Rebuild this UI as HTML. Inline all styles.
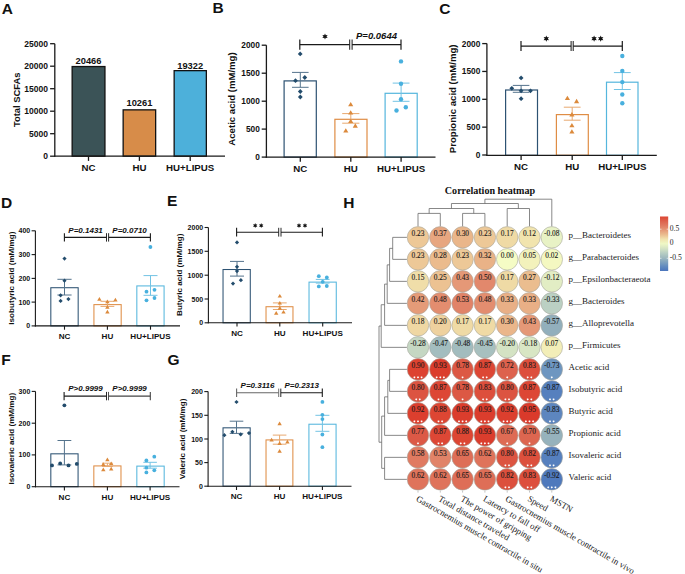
<!DOCTYPE html><html><head><meta charset="utf-8"><style>html,body{margin:0;padding:0;background:#fff;}svg{display:block;}</style></head><body>
<svg width="685" height="574" viewBox="0 0 685 574">
<rect width="685" height="574" fill="#fff"/>
<text x="1.80" y="14.00" font-family='"Liberation Sans", sans-serif' font-size="15.5" font-weight="bold" text-anchor="start" fill="#111" style="" >A</text>
<text x="212.60" y="13.30" font-family='"Liberation Sans", sans-serif' font-size="15.5" font-weight="bold" text-anchor="start" fill="#111" style="" >B</text>
<text x="439.30" y="13.80" font-family='"Liberation Sans", sans-serif' font-size="15.5" font-weight="bold" text-anchor="start" fill="#111" style="" >C</text>
<text x="1.10" y="207.60" font-family='"Liberation Sans", sans-serif' font-size="15.5" font-weight="bold" text-anchor="start" fill="#111" style="" >D</text>
<text x="167.00" y="205.80" font-family='"Liberation Sans", sans-serif' font-size="15.5" font-weight="bold" text-anchor="start" fill="#111" style="" >E</text>
<text x="1.30" y="365.00" font-family='"Liberation Sans", sans-serif' font-size="15.5" font-weight="bold" text-anchor="start" fill="#111" style="" >F</text>
<text x="167.50" y="365.00" font-family='"Liberation Sans", sans-serif' font-size="15.5" font-weight="bold" text-anchor="start" fill="#111" style="" >G</text>
<text x="343.20" y="208.20" font-family='"Liberation Sans", sans-serif' font-size="15.5" font-weight="bold" text-anchor="start" fill="#111" style="" >H</text>
<rect x="72.15" y="66.55" width="32.80" height="89.65" fill="#3b5357" stroke="#111" stroke-width="1.3"/>
<rect x="123.15" y="109.85" width="32.50" height="46.35" fill="#d78c49" stroke="#111" stroke-width="1.3"/>
<rect x="174.15" y="70.65" width="32.20" height="85.55" fill="#4db0da" stroke="#111" stroke-width="1.3"/>
<line x1="54.80" y1="43.70" x2="54.80" y2="156.85" stroke="#1a1a1a" stroke-width="1.3" />
<line x1="54.15" y1="156.20" x2="225.00" y2="156.20" stroke="#1a1a1a" stroke-width="1.3" />
<line x1="50.10" y1="43.70" x2="54.80" y2="43.70" stroke="#1a1a1a" stroke-width="1.3" />
<text x="48.00" y="46.76" font-family='"Liberation Sans", sans-serif' font-size="8.5" font-weight="bold" text-anchor="end" fill="#111" style="" >25000</text>
<line x1="50.10" y1="66.20" x2="54.80" y2="66.20" stroke="#1a1a1a" stroke-width="1.3" />
<text x="48.00" y="69.26" font-family='"Liberation Sans", sans-serif' font-size="8.5" font-weight="bold" text-anchor="end" fill="#111" style="" >20000</text>
<line x1="50.10" y1="88.70" x2="54.80" y2="88.70" stroke="#1a1a1a" stroke-width="1.3" />
<text x="48.00" y="91.76" font-family='"Liberation Sans", sans-serif' font-size="8.5" font-weight="bold" text-anchor="end" fill="#111" style="" >15000</text>
<line x1="50.10" y1="111.20" x2="54.80" y2="111.20" stroke="#1a1a1a" stroke-width="1.3" />
<text x="48.00" y="114.26" font-family='"Liberation Sans", sans-serif' font-size="8.5" font-weight="bold" text-anchor="end" fill="#111" style="" >10000</text>
<line x1="50.10" y1="133.70" x2="54.80" y2="133.70" stroke="#1a1a1a" stroke-width="1.3" />
<text x="48.00" y="136.76" font-family='"Liberation Sans", sans-serif' font-size="8.5" font-weight="bold" text-anchor="end" fill="#111" style="" >5000</text>
<line x1="50.10" y1="156.20" x2="54.80" y2="156.20" stroke="#1a1a1a" stroke-width="1.3" />
<text x="48.00" y="159.26" font-family='"Liberation Sans", sans-serif' font-size="8.5" font-weight="bold" text-anchor="end" fill="#111" style="" >0</text>
<line x1="88.50" y1="156.20" x2="88.50" y2="160.90" stroke="#1a1a1a" stroke-width="1.3" />
<text x="88.50" y="170.80" font-family='"Liberation Sans", sans-serif' font-size="9.7" font-weight="bold" text-anchor="middle" fill="#111" style="" >NC</text>
<line x1="139.40" y1="156.20" x2="139.40" y2="160.90" stroke="#1a1a1a" stroke-width="1.3" />
<text x="139.40" y="170.80" font-family='"Liberation Sans", sans-serif' font-size="9.7" font-weight="bold" text-anchor="middle" fill="#111" style="" >HU</text>
<line x1="190.20" y1="156.20" x2="190.20" y2="160.90" stroke="#1a1a1a" stroke-width="1.3" />
<text x="190.20" y="170.80" font-family='"Liberation Sans", sans-serif' font-size="9.7" font-weight="bold" text-anchor="middle" fill="#111" style="" >HU+LIPUS</text>
<text transform="translate(19.70,99.80) rotate(-90)" font-family='"Liberation Sans", sans-serif' font-size="9.4" font-weight="bold" text-anchor="middle" fill="#111">Total SCFAs</text>
<text x="88.50" y="63.70" font-family='"Liberation Sans", sans-serif' font-size="9.3" font-weight="bold" text-anchor="middle" fill="#111" style="" >20466</text>
<text x="139.40" y="106.30" font-family='"Liberation Sans", sans-serif' font-size="9.3" font-weight="bold" text-anchor="middle" fill="#111" style="" >10261</text>
<text x="190.20" y="68.50" font-family='"Liberation Sans", sans-serif' font-size="9.3" font-weight="bold" text-anchor="middle" fill="#111" style="" >19322</text>
<rect x="284.10" y="80.90" width="32.20" height="76.20" fill="#fff" stroke="#2d5272" stroke-width="1.2"/>
<rect x="334.90" y="119.30" width="32.10" height="37.80" fill="#fff" stroke="#df8d45" stroke-width="1.2"/>
<rect x="385.10" y="93.30" width="32.10" height="63.80" fill="#fff" stroke="#55b6dd" stroke-width="1.2"/>
<line x1="300.30" y1="72.40" x2="300.30" y2="87.30" stroke="#54738c" stroke-width="1.0" />
<line x1="292.00" y1="72.40" x2="308.60" y2="72.40" stroke="#54738c" stroke-width="1.0" />
<line x1="292.00" y1="87.30" x2="308.60" y2="87.30" stroke="#54738c" stroke-width="1.0" />
<line x1="350.80" y1="113.60" x2="350.80" y2="123.20" stroke="#e8a86f" stroke-width="1.0" />
<line x1="342.20" y1="113.60" x2="359.40" y2="113.60" stroke="#e8a86f" stroke-width="1.0" />
<line x1="342.20" y1="123.20" x2="359.40" y2="123.20" stroke="#e8a86f" stroke-width="1.0" />
<line x1="401.10" y1="83.10" x2="401.10" y2="101.30" stroke="#72c3e4" stroke-width="1.0" />
<line x1="392.70" y1="83.10" x2="409.50" y2="83.10" stroke="#72c3e4" stroke-width="1.0" />
<line x1="392.70" y1="101.30" x2="409.50" y2="101.30" stroke="#72c3e4" stroke-width="1.0" />
<path d="M300.20 51.50L302.60 53.90L300.20 56.30L297.80 53.90Z" fill="#234c6c"/>
<path d="M295.50 78.30L297.90 80.70L295.50 83.10L293.10 80.70Z" fill="#234c6c"/>
<path d="M304.80 75.10L307.20 77.50L304.80 79.90L302.40 77.50Z" fill="#234c6c"/>
<path d="M300.30 89.10L302.70 91.50L300.30 93.90L297.90 91.50Z" fill="#234c6c"/>
<path d="M300.30 94.60L302.70 97.00L300.30 99.40L297.90 97.00Z" fill="#234c6c"/>
<path d="M350.70 101.95L353.28 106.30L348.12 106.30Z" fill="#dc8a3c"/>
<path d="M350.70 110.15L353.28 114.50L348.12 114.50Z" fill="#dc8a3c"/>
<path d="M350.70 118.65L353.28 123.00L348.12 123.00Z" fill="#dc8a3c"/>
<path d="M345.80 128.15L348.38 132.50L343.22 132.50Z" fill="#dc8a3c"/>
<path d="M355.30 123.35L357.88 127.70L352.72 127.70Z" fill="#dc8a3c"/>
<circle cx="401.00" cy="61.40" r="2.2" fill="#48b0de"/>
<circle cx="401.00" cy="83.80" r="2.2" fill="#48b0de"/>
<circle cx="401.00" cy="99.20" r="2.2" fill="#48b0de"/>
<circle cx="396.50" cy="110.50" r="2.2" fill="#48b0de"/>
<circle cx="405.80" cy="107.20" r="2.2" fill="#48b0de"/>
<line x1="266.40" y1="45.20" x2="266.40" y2="157.75" stroke="#1a1a1a" stroke-width="1.3" />
<line x1="265.75" y1="157.10" x2="435.50" y2="157.10" stroke="#1a1a1a" stroke-width="1.3" />
<line x1="261.70" y1="45.20" x2="266.40" y2="45.20" stroke="#1a1a1a" stroke-width="1.3" />
<text x="259.80" y="48.19" font-family='"Liberation Sans", sans-serif' font-size="8.3" font-weight="bold" text-anchor="end" fill="#111" style="" >2000</text>
<line x1="261.70" y1="73.20" x2="266.40" y2="73.20" stroke="#1a1a1a" stroke-width="1.3" />
<text x="259.80" y="76.19" font-family='"Liberation Sans", sans-serif' font-size="8.3" font-weight="bold" text-anchor="end" fill="#111" style="" >1500</text>
<line x1="261.70" y1="101.20" x2="266.40" y2="101.20" stroke="#1a1a1a" stroke-width="1.3" />
<text x="259.80" y="104.19" font-family='"Liberation Sans", sans-serif' font-size="8.3" font-weight="bold" text-anchor="end" fill="#111" style="" >1000</text>
<line x1="261.70" y1="129.10" x2="266.40" y2="129.10" stroke="#1a1a1a" stroke-width="1.3" />
<text x="259.80" y="132.09" font-family='"Liberation Sans", sans-serif' font-size="8.3" font-weight="bold" text-anchor="end" fill="#111" style="" >500</text>
<line x1="261.70" y1="157.10" x2="266.40" y2="157.10" stroke="#1a1a1a" stroke-width="1.3" />
<text x="259.80" y="160.09" font-family='"Liberation Sans", sans-serif' font-size="8.3" font-weight="bold" text-anchor="end" fill="#111" style="" >0</text>
<line x1="300.30" y1="157.10" x2="300.30" y2="161.80" stroke="#1a1a1a" stroke-width="1.3" />
<text x="300.30" y="171.70" font-family='"Liberation Sans", sans-serif' font-size="9.7" font-weight="bold" text-anchor="middle" fill="#111" style="" >NC</text>
<line x1="350.80" y1="157.10" x2="350.80" y2="161.80" stroke="#1a1a1a" stroke-width="1.3" />
<text x="350.80" y="171.70" font-family='"Liberation Sans", sans-serif' font-size="9.7" font-weight="bold" text-anchor="middle" fill="#111" style="" >HU</text>
<line x1="401.10" y1="157.10" x2="401.10" y2="161.80" stroke="#1a1a1a" stroke-width="1.3" />
<text x="401.10" y="171.70" font-family='"Liberation Sans", sans-serif' font-size="9.7" font-weight="bold" text-anchor="middle" fill="#111" style="" >HU+LIPUS</text>
<text transform="translate(235.30,99.00) rotate(-90)" font-family='"Liberation Sans", sans-serif' font-size="9.6" font-weight="bold" text-anchor="middle" fill="#111">Acetic acid (mM/mg)</text>
<line x1="299.80" y1="44.60" x2="349.70" y2="44.60" stroke="#1a1a1a" stroke-width="1.2" />
<line x1="352.10" y1="44.60" x2="401.00" y2="44.60" stroke="#1a1a1a" stroke-width="1.2" />
<line x1="299.80" y1="39.40" x2="299.80" y2="49.80" stroke="#1a1a1a" stroke-width="1.2" />
<line x1="349.70" y1="39.40" x2="349.70" y2="49.80" stroke="#1a1a1a" stroke-width="1.02" />
<line x1="352.10" y1="39.40" x2="352.10" y2="49.80" stroke="#1a1a1a" stroke-width="1.02" />
<line x1="401.00" y1="39.40" x2="401.00" y2="49.80" stroke="#1a1a1a" stroke-width="1.2" />
<polygon points="325.00,33.40 325.77,35.16 327.68,34.95 326.55,36.50 327.68,38.05 325.77,37.84 325.00,39.60 324.23,37.84 322.32,38.05 323.45,36.50 322.32,34.95 324.23,35.16" fill="#111"/>
<text x="376.50" y="38.70" font-family='"Liberation Sans", sans-serif' font-size="9.5" font-weight="bold" text-anchor="middle" fill="#111" style="font-style:italic;" >P=0.0644</text>
<rect x="505.60" y="90.00" width="31.90" height="65.30" fill="#fff" stroke="#2d5272" stroke-width="1.2"/>
<rect x="556.40" y="114.60" width="31.90" height="40.70" fill="#fff" stroke="#df8d45" stroke-width="1.2"/>
<rect x="606.50" y="82.20" width="31.50" height="73.10" fill="#fff" stroke="#55b6dd" stroke-width="1.2"/>
<line x1="521.10" y1="85.40" x2="521.10" y2="92.30" stroke="#54738c" stroke-width="1.0" />
<line x1="512.80" y1="85.40" x2="529.40" y2="85.40" stroke="#54738c" stroke-width="1.0" />
<line x1="512.80" y1="92.30" x2="529.40" y2="92.30" stroke="#54738c" stroke-width="1.0" />
<line x1="572.20" y1="107.20" x2="572.20" y2="120.20" stroke="#e8a86f" stroke-width="1.0" />
<line x1="563.80" y1="107.20" x2="580.60" y2="107.20" stroke="#e8a86f" stroke-width="1.0" />
<line x1="563.80" y1="120.20" x2="580.60" y2="120.20" stroke="#e8a86f" stroke-width="1.0" />
<line x1="622.30" y1="72.60" x2="622.30" y2="89.50" stroke="#72c3e4" stroke-width="1.0" />
<line x1="613.90" y1="72.60" x2="630.70" y2="72.60" stroke="#72c3e4" stroke-width="1.0" />
<line x1="613.90" y1="89.50" x2="630.70" y2="89.50" stroke="#72c3e4" stroke-width="1.0" />
<path d="M521.10 75.50L523.50 77.90L521.10 80.30L518.70 77.90Z" fill="#234c6c"/>
<path d="M511.80 85.90L514.20 88.30L511.80 90.70L509.40 88.30Z" fill="#234c6c"/>
<path d="M521.10 88.40L523.50 90.80L521.10 93.20L518.70 90.80Z" fill="#234c6c"/>
<path d="M530.50 88.40L532.90 90.80L530.50 93.20L528.10 90.80Z" fill="#234c6c"/>
<path d="M521.10 96.30L523.50 98.70L521.10 101.10L518.70 98.70Z" fill="#234c6c"/>
<path d="M567.40 95.65L569.99 100.00L564.81 100.00Z" fill="#dc8a3c"/>
<path d="M576.60 98.85L579.19 103.20L574.01 103.20Z" fill="#dc8a3c"/>
<path d="M571.90 112.05L574.49 116.40L569.31 116.40Z" fill="#dc8a3c"/>
<path d="M571.90 122.95L574.49 127.30L569.31 127.30Z" fill="#dc8a3c"/>
<path d="M571.90 129.15L574.49 133.50L569.31 133.50Z" fill="#dc8a3c"/>
<circle cx="622.30" cy="56.00" r="2.2" fill="#48b0de"/>
<circle cx="622.30" cy="70.90" r="2.2" fill="#48b0de"/>
<circle cx="622.30" cy="82.10" r="2.2" fill="#48b0de"/>
<circle cx="622.30" cy="94.50" r="2.2" fill="#48b0de"/>
<circle cx="622.30" cy="103.20" r="2.2" fill="#48b0de"/>
<line x1="486.90" y1="43.60" x2="486.90" y2="155.95" stroke="#1a1a1a" stroke-width="1.3" />
<line x1="486.25" y1="155.30" x2="656.80" y2="155.30" stroke="#1a1a1a" stroke-width="1.3" />
<line x1="482.20" y1="43.60" x2="486.90" y2="43.60" stroke="#1a1a1a" stroke-width="1.3" />
<text x="480.30" y="46.59" font-family='"Liberation Sans", sans-serif' font-size="8.3" font-weight="bold" text-anchor="end" fill="#111" style="" >2000</text>
<line x1="482.20" y1="71.45" x2="486.90" y2="71.45" stroke="#1a1a1a" stroke-width="1.3" />
<text x="480.30" y="74.44" font-family='"Liberation Sans", sans-serif' font-size="8.3" font-weight="bold" text-anchor="end" fill="#111" style="" >1500</text>
<line x1="482.20" y1="99.30" x2="486.90" y2="99.30" stroke="#1a1a1a" stroke-width="1.3" />
<text x="480.30" y="102.29" font-family='"Liberation Sans", sans-serif' font-size="8.3" font-weight="bold" text-anchor="end" fill="#111" style="" >1000</text>
<line x1="482.20" y1="127.15" x2="486.90" y2="127.15" stroke="#1a1a1a" stroke-width="1.3" />
<text x="480.30" y="130.14" font-family='"Liberation Sans", sans-serif' font-size="8.3" font-weight="bold" text-anchor="end" fill="#111" style="" >500</text>
<line x1="482.20" y1="155.00" x2="486.90" y2="155.00" stroke="#1a1a1a" stroke-width="1.3" />
<text x="480.30" y="157.99" font-family='"Liberation Sans", sans-serif' font-size="8.3" font-weight="bold" text-anchor="end" fill="#111" style="" >0</text>
<line x1="521.10" y1="155.30" x2="521.10" y2="160.00" stroke="#1a1a1a" stroke-width="1.3" />
<text x="521.10" y="169.90" font-family='"Liberation Sans", sans-serif' font-size="9.7" font-weight="bold" text-anchor="middle" fill="#111" style="" >NC</text>
<line x1="572.20" y1="155.30" x2="572.20" y2="160.00" stroke="#1a1a1a" stroke-width="1.3" />
<text x="572.20" y="169.90" font-family='"Liberation Sans", sans-serif' font-size="9.7" font-weight="bold" text-anchor="middle" fill="#111" style="" >HU</text>
<line x1="622.30" y1="155.30" x2="622.30" y2="160.00" stroke="#1a1a1a" stroke-width="1.3" />
<text x="622.30" y="169.90" font-family='"Liberation Sans", sans-serif' font-size="9.7" font-weight="bold" text-anchor="middle" fill="#111" style="" >HU+LIPUS</text>
<text transform="translate(456.30,98.80) rotate(-90)" font-family='"Liberation Sans", sans-serif' font-size="9.6" font-weight="bold" text-anchor="middle" fill="#111">Propionic acid (mM/mg)</text>
<line x1="521.00" y1="46.10" x2="571.10" y2="46.10" stroke="#1a1a1a" stroke-width="1.2" />
<line x1="573.20" y1="46.10" x2="622.30" y2="46.10" stroke="#1a1a1a" stroke-width="1.2" />
<line x1="521.00" y1="41.10" x2="521.00" y2="51.10" stroke="#1a1a1a" stroke-width="1.2" />
<line x1="571.10" y1="41.10" x2="571.10" y2="51.10" stroke="#1a1a1a" stroke-width="1.02" />
<line x1="573.20" y1="41.10" x2="573.20" y2="51.10" stroke="#1a1a1a" stroke-width="1.02" />
<line x1="622.30" y1="41.10" x2="622.30" y2="51.10" stroke="#1a1a1a" stroke-width="1.2" />
<polygon points="546.30,35.50 547.07,37.26 548.98,37.05 547.85,38.60 548.98,40.15 547.07,39.94 546.30,41.70 545.52,39.94 543.62,40.15 544.75,38.60 543.62,37.05 545.52,37.26" fill="#111"/>
<polygon points="594.10,35.50 594.88,37.26 596.78,37.05 595.65,38.60 596.78,40.15 594.88,39.94 594.10,41.70 593.33,39.94 591.42,40.15 592.55,38.60 591.42,37.05 593.33,37.26" fill="#111"/>
<polygon points="600.70,35.50 601.47,37.26 603.38,37.05 602.25,38.60 603.38,40.15 601.47,39.94 600.70,41.70 599.92,39.94 598.02,40.15 599.15,38.60 598.02,37.05 599.92,37.26" fill="#111"/>
<rect x="50.82" y="287.72" width="27.35" height="38.17" fill="#fff" stroke="#2d5272" stroke-width="1.05"/>
<rect x="93.93" y="304.62" width="27.25" height="21.27" fill="#fff" stroke="#df8d45" stroke-width="1.05"/>
<rect x="136.83" y="285.92" width="27.25" height="39.98" fill="#fff" stroke="#55b6dd" stroke-width="1.05"/>
<line x1="64.50" y1="279.30" x2="64.50" y2="295.00" stroke="#54738c" stroke-width="1.0" />
<line x1="57.40" y1="279.30" x2="71.60" y2="279.30" stroke="#54738c" stroke-width="1.0" />
<line x1="57.40" y1="295.00" x2="71.60" y2="295.00" stroke="#54738c" stroke-width="1.0" />
<line x1="107.40" y1="301.30" x2="107.40" y2="306.40" stroke="#e8a86f" stroke-width="1.0" />
<line x1="100.50" y1="301.30" x2="114.30" y2="301.30" stroke="#e8a86f" stroke-width="1.0" />
<line x1="100.50" y1="306.40" x2="114.30" y2="306.40" stroke="#e8a86f" stroke-width="1.0" />
<line x1="150.50" y1="275.60" x2="150.50" y2="295.30" stroke="#72c3e4" stroke-width="1.0" />
<line x1="143.50" y1="275.60" x2="157.50" y2="275.60" stroke="#72c3e4" stroke-width="1.0" />
<line x1="143.50" y1="295.30" x2="157.50" y2="295.30" stroke="#72c3e4" stroke-width="1.0" />
<path d="M64.50 256.50L66.60 258.60L64.50 260.70L62.40 258.60Z" fill="#234c6c"/>
<path d="M64.50 278.60L66.60 280.70L64.50 282.80L62.40 280.70Z" fill="#234c6c"/>
<path d="M60.60 293.20L62.70 295.30L60.60 297.40L58.50 295.30Z" fill="#234c6c"/>
<path d="M60.60 298.80L62.70 300.90L60.60 303.00L58.50 300.90Z" fill="#234c6c"/>
<path d="M68.40 297.00L70.50 299.10L68.40 301.20L66.30 299.10Z" fill="#234c6c"/>
<path d="M99.40 297.10L101.60 300.80L97.20 300.80Z" fill="#dc8a3c"/>
<path d="M115.40 297.80L117.60 301.50L113.20 301.50Z" fill="#dc8a3c"/>
<path d="M107.40 299.60L109.60 303.30L105.20 303.30Z" fill="#dc8a3c"/>
<path d="M107.40 305.10L109.60 308.80L105.20 308.80Z" fill="#dc8a3c"/>
<path d="M107.40 309.70L109.60 313.40L105.20 313.40Z" fill="#dc8a3c"/>
<circle cx="150.40" cy="247.00" r="1.9" fill="#48b0de"/>
<circle cx="146.50" cy="291.70" r="1.9" fill="#48b0de"/>
<circle cx="154.50" cy="289.80" r="1.9" fill="#48b0de"/>
<circle cx="146.50" cy="300.30" r="1.9" fill="#48b0de"/>
<circle cx="154.50" cy="298.00" r="1.9" fill="#48b0de"/>
<line x1="35.40" y1="230.80" x2="35.40" y2="326.45" stroke="#1a1a1a" stroke-width="1.1" />
<line x1="34.85" y1="325.90" x2="180.00" y2="325.90" stroke="#1a1a1a" stroke-width="1.1" />
<line x1="31.60" y1="230.80" x2="35.40" y2="230.80" stroke="#1a1a1a" stroke-width="1.1" />
<text x="30.20" y="233.32" font-family='"Liberation Sans", sans-serif' font-size="7.0" font-weight="bold" text-anchor="end" fill="#111" style="" >400</text>
<line x1="31.60" y1="254.60" x2="35.40" y2="254.60" stroke="#1a1a1a" stroke-width="1.1" />
<text x="30.20" y="257.12" font-family='"Liberation Sans", sans-serif' font-size="7.0" font-weight="bold" text-anchor="end" fill="#111" style="" >300</text>
<line x1="31.60" y1="278.40" x2="35.40" y2="278.40" stroke="#1a1a1a" stroke-width="1.1" />
<text x="30.20" y="280.92" font-family='"Liberation Sans", sans-serif' font-size="7.0" font-weight="bold" text-anchor="end" fill="#111" style="" >200</text>
<line x1="31.60" y1="302.10" x2="35.40" y2="302.10" stroke="#1a1a1a" stroke-width="1.1" />
<text x="30.20" y="304.62" font-family='"Liberation Sans", sans-serif' font-size="7.0" font-weight="bold" text-anchor="end" fill="#111" style="" >100</text>
<line x1="31.60" y1="325.90" x2="35.40" y2="325.90" stroke="#1a1a1a" stroke-width="1.1" />
<text x="30.20" y="328.42" font-family='"Liberation Sans", sans-serif' font-size="7.0" font-weight="bold" text-anchor="end" fill="#111" style="" >0</text>
<line x1="64.50" y1="325.90" x2="64.50" y2="329.70" stroke="#1a1a1a" stroke-width="1.1" />
<text x="64.50" y="338.90" font-family='"Liberation Sans", sans-serif' font-size="8.1" font-weight="bold" text-anchor="middle" fill="#111" style="" >NC</text>
<line x1="107.40" y1="325.90" x2="107.40" y2="329.70" stroke="#1a1a1a" stroke-width="1.1" />
<text x="107.40" y="338.90" font-family='"Liberation Sans", sans-serif' font-size="8.1" font-weight="bold" text-anchor="middle" fill="#111" style="" >HU</text>
<line x1="150.50" y1="325.90" x2="150.50" y2="329.70" stroke="#1a1a1a" stroke-width="1.1" />
<text x="150.50" y="338.90" font-family='"Liberation Sans", sans-serif' font-size="8.1" font-weight="bold" text-anchor="middle" fill="#111" style="" >HU+LIPUS</text>
<text transform="translate(14.00,278.10) rotate(-90)" font-family='"Liberation Sans", sans-serif' font-size="8.1" font-weight="bold" text-anchor="middle" fill="#111">Isobutyric acid (mM/mg)</text>
<line x1="64.40" y1="237.40" x2="106.50" y2="237.40" stroke="#1a1a1a" stroke-width="1.1" />
<line x1="108.60" y1="237.40" x2="150.40" y2="237.40" stroke="#1a1a1a" stroke-width="1.1" />
<line x1="64.40" y1="233.20" x2="64.40" y2="241.60" stroke="#1a1a1a" stroke-width="1.1" />
<line x1="106.50" y1="233.20" x2="106.50" y2="241.60" stroke="#1a1a1a" stroke-width="0.935" />
<line x1="108.60" y1="233.20" x2="108.60" y2="241.60" stroke="#1a1a1a" stroke-width="0.935" />
<line x1="150.40" y1="233.20" x2="150.40" y2="241.60" stroke="#1a1a1a" stroke-width="1.1" />
<text x="85.60" y="232.50" font-family='"Liberation Sans", sans-serif' font-size="8.0" font-weight="bold" text-anchor="middle" fill="#111" style="font-style:italic;" >P=0.1431</text>
<text x="129.60" y="232.50" font-family='"Liberation Sans", sans-serif' font-size="8.0" font-weight="bold" text-anchor="middle" fill="#111" style="font-style:italic;" >P=0.0710</text>
<rect x="223.03" y="269.52" width="27.25" height="53.28" fill="#fff" stroke="#2d5272" stroke-width="1.05"/>
<rect x="266.02" y="306.72" width="26.95" height="16.08" fill="#fff" stroke="#df8d45" stroke-width="1.05"/>
<rect x="309.02" y="282.12" width="27.25" height="40.67" fill="#fff" stroke="#55b6dd" stroke-width="1.05"/>
<line x1="237.00" y1="261.40" x2="237.00" y2="276.10" stroke="#54738c" stroke-width="1.0" />
<line x1="230.00" y1="261.40" x2="244.00" y2="261.40" stroke="#54738c" stroke-width="1.0" />
<line x1="230.00" y1="276.10" x2="244.00" y2="276.10" stroke="#54738c" stroke-width="1.0" />
<line x1="279.80" y1="302.90" x2="279.80" y2="309.50" stroke="#e8a86f" stroke-width="1.0" />
<line x1="272.90" y1="302.90" x2="286.70" y2="302.90" stroke="#e8a86f" stroke-width="1.0" />
<line x1="272.90" y1="309.50" x2="286.70" y2="309.50" stroke="#e8a86f" stroke-width="1.0" />
<line x1="322.70" y1="279.40" x2="322.70" y2="283.10" stroke="#72c3e4" stroke-width="1.0" />
<line x1="315.80" y1="279.40" x2="329.60" y2="279.40" stroke="#72c3e4" stroke-width="1.0" />
<line x1="315.80" y1="283.10" x2="329.60" y2="283.10" stroke="#72c3e4" stroke-width="1.0" />
<path d="M237.00 240.30L239.10 242.40L237.00 244.50L234.90 242.40Z" fill="#234c6c"/>
<path d="M237.00 264.70L239.10 266.80L237.00 268.90L234.90 266.80Z" fill="#234c6c"/>
<path d="M237.00 269.00L239.10 271.10L237.00 273.20L234.90 271.10Z" fill="#234c6c"/>
<path d="M240.90 278.10L243.00 280.20L240.90 282.30L238.80 280.20Z" fill="#234c6c"/>
<path d="M233.00 281.50L235.10 283.60L233.00 285.70L230.90 283.60Z" fill="#234c6c"/>
<path d="M279.80 293.90L282.00 297.60L277.60 297.60Z" fill="#dc8a3c"/>
<path d="M279.80 300.90L282.00 304.60L277.60 304.60Z" fill="#dc8a3c"/>
<path d="M279.80 306.00L282.00 309.70L277.60 309.70Z" fill="#dc8a3c"/>
<path d="M276.20 311.00L278.40 314.70L274.00 314.70Z" fill="#dc8a3c"/>
<path d="M283.50 309.90L285.70 313.60L281.30 313.60Z" fill="#dc8a3c"/>
<circle cx="318.80" cy="276.20" r="1.9" fill="#48b0de"/>
<circle cx="326.80" cy="277.50" r="1.9" fill="#48b0de"/>
<circle cx="322.70" cy="281.80" r="1.9" fill="#48b0de"/>
<circle cx="318.80" cy="286.40" r="1.9" fill="#48b0de"/>
<circle cx="326.80" cy="286.00" r="1.9" fill="#48b0de"/>
<line x1="208.40" y1="227.50" x2="208.40" y2="323.35" stroke="#1a1a1a" stroke-width="1.1" />
<line x1="207.85" y1="322.80" x2="352.00" y2="322.80" stroke="#1a1a1a" stroke-width="1.1" />
<line x1="204.60" y1="227.50" x2="208.40" y2="227.50" stroke="#1a1a1a" stroke-width="1.1" />
<text x="203.20" y="230.02" font-family='"Liberation Sans", sans-serif' font-size="7.0" font-weight="bold" text-anchor="end" fill="#111" style="" >2000</text>
<line x1="204.60" y1="251.30" x2="208.40" y2="251.30" stroke="#1a1a1a" stroke-width="1.1" />
<text x="203.20" y="253.82" font-family='"Liberation Sans", sans-serif' font-size="7.0" font-weight="bold" text-anchor="end" fill="#111" style="" >1500</text>
<line x1="204.60" y1="275.20" x2="208.40" y2="275.20" stroke="#1a1a1a" stroke-width="1.1" />
<text x="203.20" y="277.72" font-family='"Liberation Sans", sans-serif' font-size="7.0" font-weight="bold" text-anchor="end" fill="#111" style="" >1000</text>
<line x1="204.60" y1="299.00" x2="208.40" y2="299.00" stroke="#1a1a1a" stroke-width="1.1" />
<text x="203.20" y="301.52" font-family='"Liberation Sans", sans-serif' font-size="7.0" font-weight="bold" text-anchor="end" fill="#111" style="" >500</text>
<line x1="204.60" y1="322.80" x2="208.40" y2="322.80" stroke="#1a1a1a" stroke-width="1.1" />
<text x="203.20" y="325.32" font-family='"Liberation Sans", sans-serif' font-size="7.0" font-weight="bold" text-anchor="end" fill="#111" style="" >0</text>
<line x1="237.00" y1="322.80" x2="237.00" y2="326.60" stroke="#1a1a1a" stroke-width="1.1" />
<text x="237.00" y="335.80" font-family='"Liberation Sans", sans-serif' font-size="8.1" font-weight="bold" text-anchor="middle" fill="#111" style="" >NC</text>
<line x1="279.80" y1="322.80" x2="279.80" y2="326.60" stroke="#1a1a1a" stroke-width="1.1" />
<text x="279.80" y="335.80" font-family='"Liberation Sans", sans-serif' font-size="8.1" font-weight="bold" text-anchor="middle" fill="#111" style="" >HU</text>
<line x1="322.70" y1="322.80" x2="322.70" y2="326.60" stroke="#1a1a1a" stroke-width="1.1" />
<text x="322.70" y="335.80" font-family='"Liberation Sans", sans-serif' font-size="8.1" font-weight="bold" text-anchor="middle" fill="#111" style="" >HU+LIPUS</text>
<text transform="translate(181.50,274.80) rotate(-90)" font-family='"Liberation Sans", sans-serif' font-size="8.1" font-weight="bold" text-anchor="middle" fill="#111">Butyric acid (mM/mg)</text>
<line x1="236.60" y1="232.20" x2="278.70" y2="232.20" stroke="#1a1a1a" stroke-width="1.1" />
<line x1="281.00" y1="232.20" x2="322.40" y2="232.20" stroke="#1a1a1a" stroke-width="1.1" />
<line x1="236.60" y1="227.80" x2="236.60" y2="236.60" stroke="#1a1a1a" stroke-width="1.1" />
<line x1="278.70" y1="227.80" x2="278.70" y2="236.60" stroke="#1a1a1a" stroke-width="0.935" />
<line x1="281.00" y1="227.80" x2="281.00" y2="236.60" stroke="#1a1a1a" stroke-width="0.935" />
<line x1="322.40" y1="227.80" x2="322.40" y2="236.60" stroke="#1a1a1a" stroke-width="1.1" />
<polygon points="255.20,223.10 255.82,224.52 257.37,224.35 256.45,225.60 257.37,226.85 255.82,226.68 255.20,228.10 254.57,226.68 253.03,226.85 253.95,225.60 253.03,224.35 254.57,224.52" fill="#111"/>
<polygon points="261.20,223.10 261.82,224.52 263.37,224.35 262.45,225.60 263.37,226.85 261.82,226.68 261.20,228.10 260.57,226.68 259.03,226.85 259.95,225.60 259.03,224.35 260.57,224.52" fill="#111"/>
<polygon points="299.00,223.10 299.62,224.52 301.17,224.35 300.25,225.60 301.17,226.85 299.62,226.68 299.00,228.10 298.38,226.68 296.83,226.85 297.75,225.60 296.83,224.35 298.38,224.52" fill="#111"/>
<polygon points="305.00,223.10 305.62,224.52 307.17,224.35 306.25,225.60 307.17,226.85 305.62,226.68 305.00,228.10 304.38,226.68 302.83,226.85 303.75,225.60 302.83,224.35 304.38,224.52" fill="#111"/>
<rect x="50.82" y="453.82" width="27.25" height="32.87" fill="#fff" stroke="#2d5272" stroke-width="1.05"/>
<rect x="93.83" y="465.92" width="27.15" height="20.78" fill="#fff" stroke="#df8d45" stroke-width="1.05"/>
<rect x="136.83" y="466.12" width="27.35" height="20.57" fill="#fff" stroke="#55b6dd" stroke-width="1.05"/>
<line x1="64.40" y1="440.50" x2="64.40" y2="464.90" stroke="#54738c" stroke-width="1.0" />
<line x1="57.50" y1="440.50" x2="71.30" y2="440.50" stroke="#54738c" stroke-width="1.0" />
<line x1="57.50" y1="464.90" x2="71.30" y2="464.90" stroke="#54738c" stroke-width="1.0" />
<line x1="107.40" y1="463.20" x2="107.40" y2="466.50" stroke="#e8a86f" stroke-width="1.0" />
<line x1="102.00" y1="463.20" x2="112.80" y2="463.20" stroke="#e8a86f" stroke-width="1.0" />
<line x1="102.00" y1="466.50" x2="112.80" y2="466.50" stroke="#e8a86f" stroke-width="1.0" />
<line x1="150.10" y1="462.30" x2="150.10" y2="468.20" stroke="#72c3e4" stroke-width="1.0" />
<line x1="143.30" y1="462.30" x2="156.90" y2="462.30" stroke="#72c3e4" stroke-width="1.0" />
<line x1="143.30" y1="468.20" x2="156.90" y2="468.20" stroke="#72c3e4" stroke-width="1.0" />
<circle cx="64.40" cy="405.30" r="1.9" fill="#234c6c"/>
<circle cx="52.00" cy="465.40" r="1.9" fill="#234c6c"/>
<circle cx="60.20" cy="463.40" r="1.9" fill="#234c6c"/>
<circle cx="68.50" cy="465.40" r="1.9" fill="#234c6c"/>
<circle cx="76.80" cy="463.90" r="1.9" fill="#234c6c"/>
<path d="M107.40 457.60L109.60 461.30L105.20 461.30Z" fill="#dc8a3c"/>
<path d="M103.30 462.20L105.50 465.90L101.10 465.90Z" fill="#dc8a3c"/>
<path d="M111.20 461.40L113.40 465.10L109.00 465.10Z" fill="#dc8a3c"/>
<path d="M103.30 467.50L105.50 471.20L101.10 471.20Z" fill="#dc8a3c"/>
<path d="M111.20 466.70L113.40 470.40L109.00 470.40Z" fill="#dc8a3c"/>
<circle cx="146.40" cy="460.40" r="1.9" fill="#48b0de"/>
<circle cx="154.30" cy="456.70" r="1.9" fill="#48b0de"/>
<circle cx="146.40" cy="467.70" r="1.9" fill="#48b0de"/>
<circle cx="154.30" cy="470.30" r="1.9" fill="#48b0de"/>
<circle cx="146.40" cy="472.40" r="1.9" fill="#48b0de"/>
<line x1="35.50" y1="391.40" x2="35.50" y2="487.25" stroke="#1a1a1a" stroke-width="1.1" />
<line x1="34.95" y1="486.70" x2="179.50" y2="486.70" stroke="#1a1a1a" stroke-width="1.1" />
<line x1="31.70" y1="391.40" x2="35.50" y2="391.40" stroke="#1a1a1a" stroke-width="1.1" />
<text x="30.30" y="393.92" font-family='"Liberation Sans", sans-serif' font-size="7.0" font-weight="bold" text-anchor="end" fill="#111" style="" >300</text>
<line x1="31.70" y1="423.20" x2="35.50" y2="423.20" stroke="#1a1a1a" stroke-width="1.1" />
<text x="30.30" y="425.72" font-family='"Liberation Sans", sans-serif' font-size="7.0" font-weight="bold" text-anchor="end" fill="#111" style="" >200</text>
<line x1="31.70" y1="454.90" x2="35.50" y2="454.90" stroke="#1a1a1a" stroke-width="1.1" />
<text x="30.30" y="457.42" font-family='"Liberation Sans", sans-serif' font-size="7.0" font-weight="bold" text-anchor="end" fill="#111" style="" >100</text>
<line x1="31.70" y1="486.70" x2="35.50" y2="486.70" stroke="#1a1a1a" stroke-width="1.1" />
<text x="30.30" y="489.22" font-family='"Liberation Sans", sans-serif' font-size="7.0" font-weight="bold" text-anchor="end" fill="#111" style="" >0</text>
<line x1="64.40" y1="486.70" x2="64.40" y2="490.50" stroke="#1a1a1a" stroke-width="1.1" />
<text x="64.40" y="499.70" font-family='"Liberation Sans", sans-serif' font-size="8.1" font-weight="bold" text-anchor="middle" fill="#111" style="" >NC</text>
<line x1="107.40" y1="486.70" x2="107.40" y2="490.50" stroke="#1a1a1a" stroke-width="1.1" />
<text x="107.40" y="499.70" font-family='"Liberation Sans", sans-serif' font-size="8.1" font-weight="bold" text-anchor="middle" fill="#111" style="" >HU</text>
<line x1="150.10" y1="486.70" x2="150.10" y2="490.50" stroke="#1a1a1a" stroke-width="1.1" />
<text x="150.10" y="499.70" font-family='"Liberation Sans", sans-serif' font-size="8.1" font-weight="bold" text-anchor="middle" fill="#111" style="" >HU+LIPUS</text>
<text transform="translate(14.00,438.70) rotate(-90)" font-family='"Liberation Sans", sans-serif' font-size="8.1" font-weight="bold" text-anchor="middle" fill="#111">Isovaleric acid (mM/mg)</text>
<line x1="64.10" y1="396.10" x2="106.50" y2="396.10" stroke="#1a1a1a" stroke-width="1.1" />
<line x1="108.50" y1="396.10" x2="150.30" y2="396.10" stroke="#444" stroke-width="1.1" />
<line x1="64.10" y1="391.90" x2="64.10" y2="400.30" stroke="#1a1a1a" stroke-width="1.1" />
<line x1="106.50" y1="391.90" x2="106.50" y2="400.30" stroke="#1a1a1a" stroke-width="0.935" />
<line x1="108.50" y1="391.90" x2="108.50" y2="400.30" stroke="#444" stroke-width="0.935" />
<line x1="150.30" y1="391.90" x2="150.30" y2="400.30" stroke="#444" stroke-width="1.1" />
<text x="85.50" y="391.40" font-family='"Liberation Sans", sans-serif' font-size="8.0" font-weight="bold" text-anchor="middle" fill="#111" style="font-style:italic;" >P&gt;0.9999</text>
<text x="129.60" y="391.40" font-family='"Liberation Sans", sans-serif' font-size="8.0" font-weight="bold" text-anchor="middle" fill="#111" style="font-style:italic;" >P&gt;0.9999</text>
<rect x="223.03" y="427.82" width="27.15" height="58.37" fill="#fff" stroke="#2d5272" stroke-width="1.05"/>
<rect x="266.02" y="439.92" width="26.85" height="46.28" fill="#fff" stroke="#df8d45" stroke-width="1.05"/>
<rect x="308.92" y="424.22" width="27.15" height="61.98" fill="#fff" stroke="#55b6dd" stroke-width="1.05"/>
<line x1="236.50" y1="421.20" x2="236.50" y2="433.40" stroke="#54738c" stroke-width="1.0" />
<line x1="229.70" y1="421.20" x2="243.30" y2="421.20" stroke="#54738c" stroke-width="1.0" />
<line x1="229.70" y1="433.40" x2="243.30" y2="433.40" stroke="#54738c" stroke-width="1.0" />
<line x1="279.60" y1="435.10" x2="279.60" y2="444.20" stroke="#e8a86f" stroke-width="1.0" />
<line x1="272.80" y1="435.10" x2="286.40" y2="435.10" stroke="#e8a86f" stroke-width="1.0" />
<line x1="272.80" y1="444.20" x2="286.40" y2="444.20" stroke="#e8a86f" stroke-width="1.0" />
<line x1="322.40" y1="415.30" x2="322.40" y2="431.30" stroke="#72c3e4" stroke-width="1.0" />
<line x1="315.40" y1="415.30" x2="329.40" y2="415.30" stroke="#72c3e4" stroke-width="1.0" />
<line x1="315.40" y1="431.30" x2="329.40" y2="431.30" stroke="#72c3e4" stroke-width="1.0" />
<path d="M236.50 399.90L238.60 402.00L236.50 404.10L234.40 402.00Z" fill="#234c6c"/>
<path d="M224.40 433.10L226.50 435.20L224.40 437.30L222.30 435.20Z" fill="#234c6c"/>
<path d="M232.40 429.70L234.50 431.80L232.40 433.90L230.30 431.80Z" fill="#234c6c"/>
<path d="M240.70 432.30L242.80 434.40L240.70 436.50L238.60 434.40Z" fill="#234c6c"/>
<path d="M249.00 431.00L251.10 433.10L249.00 435.20L246.90 433.10Z" fill="#234c6c"/>
<path d="M279.60 421.50L281.80 425.20L277.40 425.20Z" fill="#dc8a3c"/>
<path d="M271.60 437.70L273.80 441.40L269.40 441.40Z" fill="#dc8a3c"/>
<path d="M279.60 441.30L281.80 445.00L277.40 445.00Z" fill="#dc8a3c"/>
<path d="M287.40 439.70L289.60 443.40L285.20 443.40Z" fill="#dc8a3c"/>
<path d="M279.60 449.00L281.80 452.70L277.40 452.70Z" fill="#dc8a3c"/>
<circle cx="322.40" cy="401.90" r="1.9" fill="#48b0de"/>
<circle cx="322.40" cy="414.80" r="1.9" fill="#48b0de"/>
<circle cx="322.40" cy="419.10" r="1.9" fill="#48b0de"/>
<circle cx="322.40" cy="434.50" r="1.9" fill="#48b0de"/>
<circle cx="322.40" cy="447.20" r="1.9" fill="#48b0de"/>
<line x1="208.10" y1="391.60" x2="208.10" y2="486.75" stroke="#1a1a1a" stroke-width="1.1" />
<line x1="207.55" y1="486.20" x2="351.50" y2="486.20" stroke="#1a1a1a" stroke-width="1.1" />
<line x1="204.30" y1="391.60" x2="208.10" y2="391.60" stroke="#1a1a1a" stroke-width="1.1" />
<text x="202.90" y="394.12" font-family='"Liberation Sans", sans-serif' font-size="7.0" font-weight="bold" text-anchor="end" fill="#111" style="" >200</text>
<line x1="204.30" y1="415.30" x2="208.10" y2="415.30" stroke="#1a1a1a" stroke-width="1.1" />
<text x="202.90" y="417.82" font-family='"Liberation Sans", sans-serif' font-size="7.0" font-weight="bold" text-anchor="end" fill="#111" style="" >150</text>
<line x1="204.30" y1="439.00" x2="208.10" y2="439.00" stroke="#1a1a1a" stroke-width="1.1" />
<text x="202.90" y="441.52" font-family='"Liberation Sans", sans-serif' font-size="7.0" font-weight="bold" text-anchor="end" fill="#111" style="" >100</text>
<line x1="204.30" y1="462.60" x2="208.10" y2="462.60" stroke="#1a1a1a" stroke-width="1.1" />
<text x="202.90" y="465.12" font-family='"Liberation Sans", sans-serif' font-size="7.0" font-weight="bold" text-anchor="end" fill="#111" style="" >50</text>
<line x1="204.30" y1="486.20" x2="208.10" y2="486.20" stroke="#1a1a1a" stroke-width="1.1" />
<text x="202.90" y="488.72" font-family='"Liberation Sans", sans-serif' font-size="7.0" font-weight="bold" text-anchor="end" fill="#111" style="" >0</text>
<line x1="236.50" y1="486.20" x2="236.50" y2="490.00" stroke="#1a1a1a" stroke-width="1.1" />
<text x="236.50" y="499.20" font-family='"Liberation Sans", sans-serif' font-size="8.1" font-weight="bold" text-anchor="middle" fill="#111" style="" >NC</text>
<line x1="279.60" y1="486.20" x2="279.60" y2="490.00" stroke="#1a1a1a" stroke-width="1.1" />
<text x="279.60" y="499.20" font-family='"Liberation Sans", sans-serif' font-size="8.1" font-weight="bold" text-anchor="middle" fill="#111" style="" >HU</text>
<line x1="322.40" y1="486.20" x2="322.40" y2="490.00" stroke="#1a1a1a" stroke-width="1.1" />
<text x="322.40" y="499.20" font-family='"Liberation Sans", sans-serif' font-size="8.1" font-weight="bold" text-anchor="middle" fill="#111" style="" >HU+LIPUS</text>
<text transform="translate(185.30,438.90) rotate(-90)" font-family='"Liberation Sans", sans-serif' font-size="8.1" font-weight="bold" text-anchor="middle" fill="#111">Valeric acid (mM/mg)</text>
<line x1="236.60" y1="392.80" x2="278.70" y2="392.80" stroke="#666" stroke-width="1.1" />
<line x1="280.80" y1="392.80" x2="322.30" y2="392.80" stroke="#1a1a1a" stroke-width="1.1" />
<line x1="236.60" y1="388.60" x2="236.60" y2="397.00" stroke="#666" stroke-width="1.1" />
<line x1="278.70" y1="388.60" x2="278.70" y2="397.00" stroke="#666" stroke-width="0.935" />
<line x1="280.80" y1="388.60" x2="280.80" y2="397.00" stroke="#1a1a1a" stroke-width="0.935" />
<line x1="322.30" y1="388.60" x2="322.30" y2="397.00" stroke="#1a1a1a" stroke-width="1.1" />
<text x="257.50" y="387.80" font-family='"Liberation Sans", sans-serif' font-size="8.0" font-weight="bold" text-anchor="middle" fill="#111" style="font-style:italic;" >P=0.3116</text>
<text x="301.70" y="387.80" font-family='"Liberation Sans", sans-serif' font-size="8.0" font-weight="bold" text-anchor="middle" fill="#111" style="font-style:italic;" >P=0.2313</text>
<text x="444.8" y="193.9" font-family='"Liberation Serif", serif' font-size="10.1" font-weight="bold" fill="#111">Correlation heatmap</text>
<line x1="418.00" y1="226.50" x2="418.00" y2="213.40" stroke="#6a6a6a" stroke-width="0.8" />
<line x1="440.30" y1="226.50" x2="440.30" y2="213.40" stroke="#6a6a6a" stroke-width="0.8" />
<line x1="418.00" y1="213.40" x2="440.30" y2="213.40" stroke="#6a6a6a" stroke-width="0.8" />
<line x1="462.60" y1="226.50" x2="462.60" y2="213.40" stroke="#6a6a6a" stroke-width="0.8" />
<line x1="484.90" y1="226.50" x2="484.90" y2="213.40" stroke="#6a6a6a" stroke-width="0.8" />
<line x1="462.60" y1="213.40" x2="484.90" y2="213.40" stroke="#6a6a6a" stroke-width="0.8" />
<line x1="429.15" y1="213.40" x2="429.15" y2="208.50" stroke="#6a6a6a" stroke-width="0.8" />
<line x1="473.75" y1="213.40" x2="473.75" y2="208.50" stroke="#6a6a6a" stroke-width="0.8" />
<line x1="429.15" y1="208.50" x2="473.75" y2="208.50" stroke="#6a6a6a" stroke-width="0.8" />
<line x1="507.20" y1="226.50" x2="507.20" y2="208.50" stroke="#6a6a6a" stroke-width="0.8" />
<line x1="529.50" y1="226.50" x2="529.50" y2="208.50" stroke="#6a6a6a" stroke-width="0.8" />
<line x1="507.20" y1="208.50" x2="529.50" y2="208.50" stroke="#6a6a6a" stroke-width="0.8" />
<line x1="451.45" y1="208.50" x2="451.45" y2="203.50" stroke="#6a6a6a" stroke-width="0.8" />
<line x1="518.35" y1="208.50" x2="518.35" y2="203.50" stroke="#6a6a6a" stroke-width="0.8" />
<line x1="451.45" y1="203.50" x2="518.35" y2="203.50" stroke="#6a6a6a" stroke-width="0.8" />
<line x1="484.90" y1="203.50" x2="484.90" y2="199.20" stroke="#6a6a6a" stroke-width="0.8" />
<line x1="551.80" y1="226.50" x2="551.80" y2="199.20" stroke="#6a6a6a" stroke-width="0.8" />
<line x1="484.90" y1="199.20" x2="551.80" y2="199.20" stroke="#6a6a6a" stroke-width="0.8" />
<line x1="392.70" y1="237.35" x2="406.90" y2="237.35" stroke="#6a6a6a" stroke-width="0.8" />
<line x1="392.70" y1="259.35" x2="406.90" y2="259.35" stroke="#6a6a6a" stroke-width="0.8" />
<line x1="392.70" y1="237.35" x2="392.70" y2="259.35" stroke="#6a6a6a" stroke-width="0.8" />
<line x1="389.60" y1="248.35" x2="392.70" y2="248.35" stroke="#6a6a6a" stroke-width="0.8" />
<line x1="389.60" y1="281.35" x2="406.90" y2="281.35" stroke="#6a6a6a" stroke-width="0.8" />
<line x1="389.60" y1="248.35" x2="389.60" y2="281.35" stroke="#6a6a6a" stroke-width="0.8" />
<line x1="387.20" y1="264.85" x2="389.60" y2="264.85" stroke="#6a6a6a" stroke-width="0.8" />
<line x1="387.20" y1="303.35" x2="406.90" y2="303.35" stroke="#6a6a6a" stroke-width="0.8" />
<line x1="387.20" y1="264.85" x2="387.20" y2="303.35" stroke="#6a6a6a" stroke-width="0.8" />
<line x1="384.60" y1="284.10" x2="387.20" y2="284.10" stroke="#6a6a6a" stroke-width="0.8" />
<line x1="384.60" y1="325.35" x2="406.90" y2="325.35" stroke="#6a6a6a" stroke-width="0.8" />
<line x1="384.60" y1="284.10" x2="384.60" y2="325.35" stroke="#6a6a6a" stroke-width="0.8" />
<line x1="381.20" y1="304.73" x2="384.60" y2="304.73" stroke="#6a6a6a" stroke-width="0.8" />
<line x1="381.20" y1="347.35" x2="406.90" y2="347.35" stroke="#6a6a6a" stroke-width="0.8" />
<line x1="381.20" y1="304.73" x2="381.20" y2="347.35" stroke="#6a6a6a" stroke-width="0.8" />
<line x1="389.60" y1="369.35" x2="406.90" y2="369.35" stroke="#6a6a6a" stroke-width="0.8" />
<line x1="389.60" y1="391.35" x2="406.90" y2="391.35" stroke="#6a6a6a" stroke-width="0.8" />
<line x1="389.60" y1="369.35" x2="389.60" y2="391.35" stroke="#6a6a6a" stroke-width="0.8" />
<line x1="387.80" y1="380.35" x2="389.60" y2="380.35" stroke="#6a6a6a" stroke-width="0.8" />
<line x1="387.80" y1="413.35" x2="406.90" y2="413.35" stroke="#6a6a6a" stroke-width="0.8" />
<line x1="387.80" y1="380.35" x2="387.80" y2="413.35" stroke="#6a6a6a" stroke-width="0.8" />
<line x1="384.60" y1="396.85" x2="387.80" y2="396.85" stroke="#6a6a6a" stroke-width="0.8" />
<line x1="384.60" y1="435.35" x2="406.90" y2="435.35" stroke="#6a6a6a" stroke-width="0.8" />
<line x1="384.60" y1="396.85" x2="384.60" y2="435.35" stroke="#6a6a6a" stroke-width="0.8" />
<line x1="384.60" y1="457.35" x2="406.90" y2="457.35" stroke="#6a6a6a" stroke-width="0.8" />
<line x1="384.60" y1="479.35" x2="406.90" y2="479.35" stroke="#6a6a6a" stroke-width="0.8" />
<line x1="384.60" y1="457.35" x2="384.60" y2="479.35" stroke="#6a6a6a" stroke-width="0.8" />
<line x1="381.70" y1="416.10" x2="384.60" y2="416.10" stroke="#6a6a6a" stroke-width="0.8" />
<line x1="381.70" y1="468.35" x2="384.60" y2="468.35" stroke="#6a6a6a" stroke-width="0.8" />
<line x1="381.70" y1="416.10" x2="381.70" y2="468.35" stroke="#6a6a6a" stroke-width="0.8" />
<line x1="379.00" y1="326.04" x2="381.20" y2="326.04" stroke="#6a6a6a" stroke-width="0.8" />
<line x1="379.00" y1="442.23" x2="381.70" y2="442.23" stroke="#6a6a6a" stroke-width="0.8" />
<line x1="379.00" y1="326.04" x2="379.00" y2="442.23" stroke="#6a6a6a" stroke-width="0.8" />
<line x1="418.00" y1="490.60" x2="418.00" y2="492.60" stroke="#aaaaaa" stroke-width="0.7" />
<line x1="440.30" y1="490.60" x2="440.30" y2="492.60" stroke="#aaaaaa" stroke-width="0.7" />
<line x1="462.60" y1="490.60" x2="462.60" y2="492.60" stroke="#aaaaaa" stroke-width="0.7" />
<line x1="484.90" y1="490.60" x2="484.90" y2="492.60" stroke="#aaaaaa" stroke-width="0.7" />
<line x1="507.20" y1="490.60" x2="507.20" y2="492.60" stroke="#aaaaaa" stroke-width="0.7" />
<line x1="529.50" y1="490.60" x2="529.50" y2="492.60" stroke="#aaaaaa" stroke-width="0.7" />
<line x1="551.80" y1="490.60" x2="551.80" y2="492.60" stroke="#aaaaaa" stroke-width="0.7" />
<circle cx="418.00" cy="237.35" r="10.75" fill="#edc897" stroke="#a8a8a0" stroke-width="0.6"/>
<text x="418.00" y="236.15" font-family='"Liberation Serif", serif' font-size="7.4" text-anchor="middle" fill="#1a1a1a" stroke="#1a1a1a" stroke-width="0.1">0.23</text>
<circle cx="440.30" cy="237.35" r="10.75" fill="#e7a680" stroke="#a8a8a0" stroke-width="0.6"/>
<text x="440.30" y="236.15" font-family='"Liberation Serif", serif' font-size="7.4" text-anchor="middle" fill="#1a1a1a" stroke="#1a1a1a" stroke-width="0.1">0.37</text>
<circle cx="462.60" cy="237.35" r="10.75" fill="#eab68a" stroke="#a8a8a0" stroke-width="0.6"/>
<text x="462.60" y="236.15" font-family='"Liberation Serif", serif' font-size="7.4" text-anchor="middle" fill="#1a1a1a" stroke="#1a1a1a" stroke-width="0.1">0.30</text>
<circle cx="484.90" cy="237.35" r="10.75" fill="#edc897" stroke="#a8a8a0" stroke-width="0.6"/>
<text x="484.90" y="236.15" font-family='"Liberation Serif", serif' font-size="7.4" text-anchor="middle" fill="#1a1a1a" stroke="#1a1a1a" stroke-width="0.1">0.23</text>
<circle cx="507.20" cy="237.35" r="10.75" fill="#efdaa5" stroke="#a8a8a0" stroke-width="0.6"/>
<text x="507.20" y="236.15" font-family='"Liberation Serif", serif' font-size="7.4" text-anchor="middle" fill="#1a1a1a" stroke="#1a1a1a" stroke-width="0.1">0.17</text>
<circle cx="529.50" cy="237.35" r="10.75" fill="#f1e4ae" stroke="#a8a8a0" stroke-width="0.6"/>
<text x="529.50" y="236.15" font-family='"Liberation Serif", serif' font-size="7.4" text-anchor="middle" fill="#1a1a1a" stroke="#1a1a1a" stroke-width="0.1">0.12</text>
<circle cx="551.80" cy="237.35" r="10.75" fill="#e8f2c5" stroke="#a8a8a0" stroke-width="0.6"/>
<text x="551.80" y="236.15" font-family='"Liberation Serif", serif' font-size="7.4" text-anchor="middle" fill="#1a1a1a" stroke="#1a1a1a" stroke-width="0.1">-0.08</text>
<circle cx="418.00" cy="259.35" r="10.75" fill="#edc897" stroke="#a8a8a0" stroke-width="0.6"/>
<text x="418.00" y="258.15" font-family='"Liberation Serif", serif' font-size="7.4" text-anchor="middle" fill="#1a1a1a" stroke="#1a1a1a" stroke-width="0.1">0.23</text>
<circle cx="440.30" cy="259.35" r="10.75" fill="#ebbb8d" stroke="#a8a8a0" stroke-width="0.6"/>
<text x="440.30" y="258.15" font-family='"Liberation Serif", serif' font-size="7.4" text-anchor="middle" fill="#1a1a1a" stroke="#1a1a1a" stroke-width="0.1">0.28</text>
<circle cx="462.60" cy="259.35" r="10.75" fill="#edc897" stroke="#a8a8a0" stroke-width="0.6"/>
<text x="462.60" y="258.15" font-family='"Liberation Serif", serif' font-size="7.4" text-anchor="middle" fill="#1a1a1a" stroke="#1a1a1a" stroke-width="0.1">0.23</text>
<circle cx="484.90" cy="259.35" r="10.75" fill="#e9b287" stroke="#a8a8a0" stroke-width="0.6"/>
<text x="484.90" y="258.15" font-family='"Liberation Serif", serif' font-size="7.4" text-anchor="middle" fill="#1a1a1a" stroke="#1a1a1a" stroke-width="0.1">0.32</text>
<circle cx="507.20" cy="259.35" r="10.75" fill="#f5fcc5" stroke="#a8a8a0" stroke-width="0.6"/>
<text x="507.20" y="258.15" font-family='"Liberation Serif", serif' font-size="7.4" text-anchor="middle" fill="#1a1a1a" stroke="#1a1a1a" stroke-width="0.1">0.00</text>
<circle cx="529.50" cy="259.35" r="10.75" fill="#f3f2bc" stroke="#a8a8a0" stroke-width="0.6"/>
<text x="529.50" y="258.15" font-family='"Liberation Serif", serif' font-size="7.4" text-anchor="middle" fill="#1a1a1a" stroke="#1a1a1a" stroke-width="0.1">0.05</text>
<circle cx="551.80" cy="259.35" r="10.75" fill="#f4f8c1" stroke="#a8a8a0" stroke-width="0.6"/>
<text x="551.80" y="258.15" font-family='"Liberation Serif", serif' font-size="7.4" text-anchor="middle" fill="#1a1a1a" stroke="#1a1a1a" stroke-width="0.1">0.02</text>
<circle cx="418.00" cy="281.35" r="10.75" fill="#f0dea9" stroke="#a8a8a0" stroke-width="0.6"/>
<text x="418.00" y="280.15" font-family='"Liberation Serif", serif' font-size="7.4" text-anchor="middle" fill="#1a1a1a" stroke="#1a1a1a" stroke-width="0.1">0.15</text>
<circle cx="440.30" cy="281.35" r="10.75" fill="#ecc292" stroke="#a8a8a0" stroke-width="0.6"/>
<text x="440.30" y="280.15" font-family='"Liberation Serif", serif' font-size="7.4" text-anchor="middle" fill="#1a1a1a" stroke="#1a1a1a" stroke-width="0.1">0.25</text>
<circle cx="462.60" cy="281.35" r="10.75" fill="#e59877" stroke="#a8a8a0" stroke-width="0.6"/>
<text x="462.60" y="280.15" font-family='"Liberation Serif", serif' font-size="7.4" text-anchor="middle" fill="#1a1a1a" stroke="#1a1a1a" stroke-width="0.1">0.43</text>
<circle cx="484.90" cy="281.35" r="10.75" fill="#e2886c" stroke="#a8a8a0" stroke-width="0.6"/>
<text x="484.90" y="280.15" font-family='"Liberation Serif", serif' font-size="7.4" text-anchor="middle" fill="#1a1a1a" stroke="#1a1a1a" stroke-width="0.1">0.50</text>
<circle cx="507.20" cy="281.35" r="10.75" fill="#efdaa5" stroke="#a8a8a0" stroke-width="0.6"/>
<text x="507.20" y="280.15" font-family='"Liberation Serif", serif' font-size="7.4" text-anchor="middle" fill="#1a1a1a" stroke="#1a1a1a" stroke-width="0.1">0.17</text>
<circle cx="529.50" cy="281.35" r="10.75" fill="#ebbd8f" stroke="#a8a8a0" stroke-width="0.6"/>
<text x="529.50" y="280.15" font-family='"Liberation Serif", serif' font-size="7.4" text-anchor="middle" fill="#1a1a1a" stroke="#1a1a1a" stroke-width="0.1">0.27</text>
<circle cx="551.80" cy="281.35" r="10.75" fill="#e2edc4" stroke="#a8a8a0" stroke-width="0.6"/>
<text x="551.80" y="280.15" font-family='"Liberation Serif", serif' font-size="7.4" text-anchor="middle" fill="#1a1a1a" stroke="#1a1a1a" stroke-width="0.1">-0.12</text>
<circle cx="418.00" cy="303.35" r="10.75" fill="#e59b78" stroke="#a8a8a0" stroke-width="0.6"/>
<text x="418.00" y="302.15" font-family='"Liberation Serif", serif' font-size="7.4" text-anchor="middle" fill="#1a1a1a" stroke="#1a1a1a" stroke-width="0.1">0.42</text>
<circle cx="440.30" cy="303.35" r="10.75" fill="#e38d6f" stroke="#a8a8a0" stroke-width="0.6"/>
<text x="440.30" y="302.15" font-family='"Liberation Serif", serif' font-size="7.4" text-anchor="middle" fill="#1a1a1a" stroke="#1a1a1a" stroke-width="0.1">0.48</text>
<circle cx="462.60" cy="303.35" r="10.75" fill="#e18368" stroke="#a8a8a0" stroke-width="0.6"/>
<text x="462.60" y="302.15" font-family='"Liberation Serif", serif' font-size="7.4" text-anchor="middle" fill="#1a1a1a" stroke="#1a1a1a" stroke-width="0.1">0.53</text>
<circle cx="484.90" cy="303.35" r="10.75" fill="#e38d6f" stroke="#a8a8a0" stroke-width="0.6"/>
<text x="484.90" y="302.15" font-family='"Liberation Serif", serif' font-size="7.4" text-anchor="middle" fill="#1a1a1a" stroke="#1a1a1a" stroke-width="0.1">0.48</text>
<circle cx="507.20" cy="303.35" r="10.75" fill="#e9af86" stroke="#a8a8a0" stroke-width="0.6"/>
<text x="507.20" y="302.15" font-family='"Liberation Serif", serif' font-size="7.4" text-anchor="middle" fill="#1a1a1a" stroke="#1a1a1a" stroke-width="0.1">0.33</text>
<circle cx="529.50" cy="303.35" r="10.75" fill="#e9af86" stroke="#a8a8a0" stroke-width="0.6"/>
<text x="529.50" y="302.15" font-family='"Liberation Serif", serif' font-size="7.4" text-anchor="middle" fill="#1a1a1a" stroke="#1a1a1a" stroke-width="0.1">0.33</text>
<circle cx="551.80" cy="303.35" r="10.75" fill="#bbd0c3" stroke="#a8a8a0" stroke-width="0.6"/>
<text x="551.80" y="302.15" font-family='"Liberation Serif", serif' font-size="7.4" text-anchor="middle" fill="#1a1a1a" stroke="#1a1a1a" stroke-width="0.1">-0.33</text>
<circle cx="418.00" cy="325.35" r="10.75" fill="#efd7a3" stroke="#a8a8a0" stroke-width="0.6"/>
<text x="418.00" y="324.15" font-family='"Liberation Serif", serif' font-size="7.4" text-anchor="middle" fill="#1a1a1a" stroke="#1a1a1a" stroke-width="0.1">0.18</text>
<circle cx="440.30" cy="325.35" r="10.75" fill="#eed19e" stroke="#a8a8a0" stroke-width="0.6"/>
<text x="440.30" y="324.15" font-family='"Liberation Serif", serif' font-size="7.4" text-anchor="middle" fill="#1a1a1a" stroke="#1a1a1a" stroke-width="0.1">0.20</text>
<circle cx="462.60" cy="325.35" r="10.75" fill="#efdaa5" stroke="#a8a8a0" stroke-width="0.6"/>
<text x="462.60" y="324.15" font-family='"Liberation Serif", serif' font-size="7.4" text-anchor="middle" fill="#1a1a1a" stroke="#1a1a1a" stroke-width="0.1">0.17</text>
<circle cx="484.90" cy="325.35" r="10.75" fill="#efdaa5" stroke="#a8a8a0" stroke-width="0.6"/>
<text x="484.90" y="324.15" font-family='"Liberation Serif", serif' font-size="7.4" text-anchor="middle" fill="#1a1a1a" stroke="#1a1a1a" stroke-width="0.1">0.17</text>
<circle cx="507.20" cy="325.35" r="10.75" fill="#eab68a" stroke="#a8a8a0" stroke-width="0.6"/>
<text x="507.20" y="324.15" font-family='"Liberation Serif", serif' font-size="7.4" text-anchor="middle" fill="#1a1a1a" stroke="#1a1a1a" stroke-width="0.1">0.30</text>
<circle cx="529.50" cy="325.35" r="10.75" fill="#e59877" stroke="#a8a8a0" stroke-width="0.6"/>
<text x="529.50" y="324.15" font-family='"Liberation Serif", serif' font-size="7.4" text-anchor="middle" fill="#1a1a1a" stroke="#1a1a1a" stroke-width="0.1">0.43</text>
<circle cx="551.80" cy="325.35" r="10.75" fill="#92afbc" stroke="#a8a8a0" stroke-width="0.6"/>
<text x="551.80" y="324.15" font-family='"Liberation Serif", serif' font-size="7.4" text-anchor="middle" fill="#1a1a1a" stroke="#1a1a1a" stroke-width="0.1">-0.57</text>
<circle cx="418.00" cy="347.35" r="10.75" fill="#c5d7c3" stroke="#a8a8a0" stroke-width="0.6"/>
<text x="418.00" y="346.15" font-family='"Liberation Serif", serif' font-size="7.4" text-anchor="middle" fill="#1a1a1a" stroke="#1a1a1a" stroke-width="0.1">-0.28</text>
<circle cx="440.30" cy="347.35" r="10.75" fill="#a3bdbf" stroke="#a8a8a0" stroke-width="0.6"/>
<text x="440.30" y="346.15" font-family='"Liberation Serif", serif' font-size="7.4" text-anchor="middle" fill="#1a1a1a" stroke="#1a1a1a" stroke-width="0.1">-0.47</text>
<circle cx="462.60" cy="347.35" r="10.75" fill="#a2bcbe" stroke="#a8a8a0" stroke-width="0.6"/>
<text x="462.60" y="346.15" font-family='"Liberation Serif", serif' font-size="7.4" text-anchor="middle" fill="#1a1a1a" stroke="#1a1a1a" stroke-width="0.1">-0.48</text>
<circle cx="484.90" cy="347.35" r="10.75" fill="#a7c0bf" stroke="#a8a8a0" stroke-width="0.6"/>
<text x="484.90" y="346.15" font-family='"Liberation Serif", serif' font-size="7.4" text-anchor="middle" fill="#1a1a1a" stroke="#1a1a1a" stroke-width="0.1">-0.45</text>
<circle cx="507.20" cy="347.35" r="10.75" fill="#d4e3c4" stroke="#a8a8a0" stroke-width="0.6"/>
<text x="507.20" y="346.15" font-family='"Liberation Serif", serif' font-size="7.4" text-anchor="middle" fill="#1a1a1a" stroke="#1a1a1a" stroke-width="0.1">-0.20</text>
<circle cx="529.50" cy="347.35" r="10.75" fill="#d8e6c4" stroke="#a8a8a0" stroke-width="0.6"/>
<text x="529.50" y="346.15" font-family='"Liberation Serif", serif' font-size="7.4" text-anchor="middle" fill="#1a1a1a" stroke="#1a1a1a" stroke-width="0.1">-0.18</text>
<circle cx="551.80" cy="347.35" r="10.75" fill="#f3eeb8" stroke="#a8a8a0" stroke-width="0.6"/>
<text x="551.80" y="346.15" font-family='"Liberation Serif", serif' font-size="7.4" text-anchor="middle" fill="#1a1a1a" stroke="#1a1a1a" stroke-width="0.1">0.07</text>
<circle cx="418.00" cy="369.35" r="10.75" fill="#dd4230" stroke="#a8a8a0" stroke-width="0.6"/>
<text x="418.00" y="368.15" font-family='"Liberation Serif", serif' font-size="7.4" text-anchor="middle" fill="#1a1a1a" stroke="#1a1a1a" stroke-width="0.1">0.90</text>
<polygon points="414.40,376.05 414.72,376.79 415.53,376.70 415.05,377.35 415.53,378.00 414.72,377.91 414.40,378.65 414.07,377.91 413.27,378.00 413.75,377.35 413.27,376.70 414.07,376.79" fill="#ffffff"/>
<polygon points="418.00,376.05 418.32,376.79 419.13,376.70 418.65,377.35 419.13,378.00 418.32,377.91 418.00,378.65 417.68,377.91 416.87,378.00 417.35,377.35 416.87,376.70 417.68,376.79" fill="#ffffff"/>
<polygon points="421.60,376.05 421.93,376.79 422.73,376.70 422.25,377.35 422.73,378.00 421.93,377.91 421.60,378.65 421.28,377.91 420.47,378.00 420.95,377.35 420.47,376.70 421.28,376.79" fill="#ffffff"/>
<circle cx="440.30" cy="369.35" r="10.75" fill="#db3d2d" stroke="#a8a8a0" stroke-width="0.6"/>
<text x="440.30" y="368.15" font-family='"Liberation Serif", serif' font-size="7.4" text-anchor="middle" fill="#1a1a1a" stroke="#1a1a1a" stroke-width="0.1">0.93</text>
<polygon points="436.70,376.05 437.02,376.79 437.83,376.70 437.35,377.35 437.83,378.00 437.02,377.91 436.70,378.65 436.38,377.91 435.57,378.00 436.05,377.35 435.57,376.70 436.38,376.79" fill="#ffffff"/>
<polygon points="440.30,376.05 440.62,376.79 441.43,376.70 440.95,377.35 441.43,378.00 440.62,377.91 440.30,378.65 439.98,377.91 439.17,378.00 439.65,377.35 439.17,376.70 439.98,376.79" fill="#ffffff"/>
<polygon points="443.90,376.05 444.23,376.79 445.03,376.70 444.55,377.35 445.03,378.00 444.23,377.91 443.90,378.65 443.58,377.91 442.77,378.00 443.25,377.35 442.77,376.70 443.58,376.79" fill="#ffffff"/>
<circle cx="462.60" cy="369.35" r="10.75" fill="#dc5844" stroke="#a8a8a0" stroke-width="0.6"/>
<text x="462.60" y="368.15" font-family='"Liberation Serif", serif' font-size="7.4" text-anchor="middle" fill="#1a1a1a" stroke="#1a1a1a" stroke-width="0.1">0.78</text>
<polygon points="462.60,376.05 462.93,376.79 463.73,376.70 463.25,377.35 463.73,378.00 462.93,377.91 462.60,378.65 462.28,377.91 461.47,378.00 461.95,377.35 461.47,376.70 462.28,376.79" fill="#ffffff"/>
<circle cx="484.90" cy="369.35" r="10.75" fill="#dd4735" stroke="#a8a8a0" stroke-width="0.6"/>
<text x="484.90" y="368.15" font-family='"Liberation Serif", serif' font-size="7.4" text-anchor="middle" fill="#1a1a1a" stroke="#1a1a1a" stroke-width="0.1">0.87</text>
<polygon points="483.10,376.05 483.42,376.79 484.23,376.70 483.75,377.35 484.23,378.00 483.42,377.91 483.10,378.65 482.77,377.91 481.97,378.00 482.45,377.35 481.97,376.70 482.77,376.79" fill="#ffffff"/>
<polygon points="486.70,376.05 487.02,376.79 487.83,376.70 487.35,377.35 487.83,378.00 487.02,377.91 486.70,378.65 486.38,377.91 485.57,378.00 486.05,377.35 485.57,376.70 486.38,376.79" fill="#ffffff"/>
<circle cx="507.20" cy="369.35" r="10.75" fill="#dd624d" stroke="#a8a8a0" stroke-width="0.6"/>
<text x="507.20" y="368.15" font-family='"Liberation Serif", serif' font-size="7.4" text-anchor="middle" fill="#1a1a1a" stroke="#1a1a1a" stroke-width="0.1">0.72</text>
<polygon points="507.20,376.05 507.52,376.79 508.33,376.70 507.85,377.35 508.33,378.00 507.52,377.91 507.20,378.65 506.88,377.91 506.07,378.00 506.55,377.35 506.07,376.70 506.88,376.79" fill="#ffffff"/>
<circle cx="529.50" cy="369.35" r="10.75" fill="#dd4f3c" stroke="#a8a8a0" stroke-width="0.6"/>
<text x="529.50" y="368.15" font-family='"Liberation Serif", serif' font-size="7.4" text-anchor="middle" fill="#1a1a1a" stroke="#1a1a1a" stroke-width="0.1">0.83</text>
<polygon points="527.70,376.05 528.03,376.79 528.83,376.70 528.35,377.35 528.83,378.00 528.03,377.91 527.70,378.65 527.38,377.91 526.57,378.00 527.05,377.35 526.57,376.70 527.38,376.79" fill="#ffffff"/>
<polygon points="531.30,376.05 531.62,376.79 532.43,376.70 531.95,377.35 532.43,378.00 531.62,377.91 531.30,378.65 530.97,377.91 530.17,378.00 530.65,377.35 530.17,376.70 530.97,376.79" fill="#ffffff"/>
<circle cx="551.80" cy="369.35" r="10.75" fill="#6e96c0" stroke="#a8a8a0" stroke-width="0.6"/>
<text x="551.80" y="368.15" font-family='"Liberation Serif", serif' font-size="7.4" text-anchor="middle" fill="#1a1a1a" stroke="#1a1a1a" stroke-width="0.1">-0.73</text>
<polygon points="551.80,376.05 552.12,376.79 552.93,376.70 552.45,377.35 552.93,378.00 552.12,377.91 551.80,378.65 551.47,377.91 550.67,378.00 551.15,377.35 550.67,376.70 551.47,376.79" fill="#ffffff"/>
<circle cx="418.00" cy="391.35" r="10.75" fill="#dc5441" stroke="#a8a8a0" stroke-width="0.6"/>
<text x="418.00" y="390.15" font-family='"Liberation Serif", serif' font-size="7.4" text-anchor="middle" fill="#1a1a1a" stroke="#1a1a1a" stroke-width="0.1">0.80</text>
<polygon points="416.20,398.05 416.52,398.79 417.33,398.70 416.85,399.35 417.33,400.00 416.52,399.91 416.20,400.65 415.88,399.91 415.07,400.00 415.55,399.35 415.07,398.70 415.88,398.79" fill="#ffffff"/>
<polygon points="419.80,398.05 420.12,398.79 420.93,398.70 420.45,399.35 420.93,400.00 420.12,399.91 419.80,400.65 419.48,399.91 418.67,400.00 419.15,399.35 418.67,398.70 419.48,398.79" fill="#ffffff"/>
<circle cx="440.30" cy="391.35" r="10.75" fill="#dd4735" stroke="#a8a8a0" stroke-width="0.6"/>
<text x="440.30" y="390.15" font-family='"Liberation Serif", serif' font-size="7.4" text-anchor="middle" fill="#1a1a1a" stroke="#1a1a1a" stroke-width="0.1">0.87</text>
<polygon points="438.50,398.05 438.82,398.79 439.63,398.70 439.15,399.35 439.63,400.00 438.82,399.91 438.50,400.65 438.18,399.91 437.37,400.00 437.85,399.35 437.37,398.70 438.18,398.79" fill="#ffffff"/>
<polygon points="442.10,398.05 442.43,398.79 443.23,398.70 442.75,399.35 443.23,400.00 442.43,399.91 442.10,400.65 441.78,399.91 440.97,400.00 441.45,399.35 440.97,398.70 441.78,398.79" fill="#ffffff"/>
<circle cx="462.60" cy="391.35" r="10.75" fill="#dc5844" stroke="#a8a8a0" stroke-width="0.6"/>
<text x="462.60" y="390.15" font-family='"Liberation Serif", serif' font-size="7.4" text-anchor="middle" fill="#1a1a1a" stroke="#1a1a1a" stroke-width="0.1">0.78</text>
<polygon points="462.60,398.05 462.93,398.79 463.73,398.70 463.25,399.35 463.73,400.00 462.93,399.91 462.60,400.65 462.28,399.91 461.47,400.00 461.95,399.35 461.47,398.70 462.28,398.79" fill="#ffffff"/>
<circle cx="484.90" cy="391.35" r="10.75" fill="#dd4f3c" stroke="#a8a8a0" stroke-width="0.6"/>
<text x="484.90" y="390.15" font-family='"Liberation Serif", serif' font-size="7.4" text-anchor="middle" fill="#1a1a1a" stroke="#1a1a1a" stroke-width="0.1">0.83</text>
<polygon points="483.10,398.05 483.42,398.79 484.23,398.70 483.75,399.35 484.23,400.00 483.42,399.91 483.10,400.65 482.77,399.91 481.97,400.00 482.45,399.35 481.97,398.70 482.77,398.79" fill="#ffffff"/>
<polygon points="486.70,398.05 487.02,398.79 487.83,398.70 487.35,399.35 487.83,400.00 487.02,399.91 486.70,400.65 486.38,399.91 485.57,400.00 486.05,399.35 485.57,398.70 486.38,398.79" fill="#ffffff"/>
<circle cx="507.20" cy="391.35" r="10.75" fill="#dc5441" stroke="#a8a8a0" stroke-width="0.6"/>
<text x="507.20" y="390.15" font-family='"Liberation Serif", serif' font-size="7.4" text-anchor="middle" fill="#1a1a1a" stroke="#1a1a1a" stroke-width="0.1">0.80</text>
<polygon points="505.40,398.05 505.72,398.79 506.53,398.70 506.05,399.35 506.53,400.00 505.72,399.91 505.40,400.65 505.07,399.91 504.27,400.00 504.75,399.35 504.27,398.70 505.07,398.79" fill="#ffffff"/>
<polygon points="509.00,398.05 509.32,398.79 510.13,398.70 509.65,399.35 510.13,400.00 509.32,399.91 509.00,400.65 508.68,399.91 507.87,400.00 508.35,399.35 507.87,398.70 508.68,398.79" fill="#ffffff"/>
<circle cx="529.50" cy="391.35" r="10.75" fill="#dd4735" stroke="#a8a8a0" stroke-width="0.6"/>
<text x="529.50" y="390.15" font-family='"Liberation Serif", serif' font-size="7.4" text-anchor="middle" fill="#1a1a1a" stroke="#1a1a1a" stroke-width="0.1">0.87</text>
<polygon points="527.70,398.05 528.03,398.79 528.83,398.70 528.35,399.35 528.83,400.00 528.03,399.91 527.70,400.65 527.38,399.91 526.57,400.00 527.05,399.35 526.57,398.70 527.38,398.79" fill="#ffffff"/>
<polygon points="531.30,398.05 531.62,398.79 532.43,398.70 531.95,399.35 532.43,400.00 531.62,399.91 531.30,400.65 530.97,399.91 530.17,400.00 530.65,399.35 530.17,398.70 530.97,398.79" fill="#ffffff"/>
<circle cx="551.80" cy="391.35" r="10.75" fill="#5680be" stroke="#a8a8a0" stroke-width="0.6"/>
<text x="551.80" y="390.15" font-family='"Liberation Serif", serif' font-size="7.4" text-anchor="middle" fill="#1a1a1a" stroke="#1a1a1a" stroke-width="0.1">-0.87</text>
<polygon points="550.00,398.05 550.33,398.79 551.13,398.70 550.65,399.35 551.13,400.00 550.33,399.91 550.00,400.65 549.67,399.91 548.87,400.00 549.35,399.35 548.87,398.70 549.67,398.79" fill="#ffffff"/>
<polygon points="553.60,398.05 553.92,398.79 554.73,398.70 554.25,399.35 554.73,400.00 553.92,399.91 553.60,400.65 553.27,399.91 552.47,400.00 552.95,399.35 552.47,398.70 553.27,398.79" fill="#ffffff"/>
<circle cx="418.00" cy="413.35" r="10.75" fill="#dc3f2e" stroke="#a8a8a0" stroke-width="0.6"/>
<text x="418.00" y="412.15" font-family='"Liberation Serif", serif' font-size="7.4" text-anchor="middle" fill="#1a1a1a" stroke="#1a1a1a" stroke-width="0.1">0.92</text>
<polygon points="414.40,420.05 414.72,420.79 415.53,420.70 415.05,421.35 415.53,422.00 414.72,421.91 414.40,422.65 414.07,421.91 413.27,422.00 413.75,421.35 413.27,420.70 414.07,420.79" fill="#ffffff"/>
<polygon points="418.00,420.05 418.32,420.79 419.13,420.70 418.65,421.35 419.13,422.00 418.32,421.91 418.00,422.65 417.68,421.91 416.87,422.00 417.35,421.35 416.87,420.70 417.68,420.79" fill="#ffffff"/>
<polygon points="421.60,420.05 421.93,420.79 422.73,420.70 422.25,421.35 422.73,422.00 421.93,421.91 421.60,422.65 421.28,421.91 420.47,422.00 420.95,421.35 420.47,420.70 421.28,420.79" fill="#ffffff"/>
<circle cx="440.30" cy="413.35" r="10.75" fill="#dd4633" stroke="#a8a8a0" stroke-width="0.6"/>
<text x="440.30" y="412.15" font-family='"Liberation Serif", serif' font-size="7.4" text-anchor="middle" fill="#1a1a1a" stroke="#1a1a1a" stroke-width="0.1">0.88</text>
<polygon points="438.50,420.05 438.82,420.79 439.63,420.70 439.15,421.35 439.63,422.00 438.82,421.91 438.50,422.65 438.18,421.91 437.37,422.00 437.85,421.35 437.37,420.70 438.18,420.79" fill="#ffffff"/>
<polygon points="442.10,420.05 442.43,420.79 443.23,420.70 442.75,421.35 443.23,422.00 442.43,421.91 442.10,422.65 441.78,421.91 440.97,422.00 441.45,421.35 440.97,420.70 441.78,420.79" fill="#ffffff"/>
<circle cx="462.60" cy="413.35" r="10.75" fill="#db3d2d" stroke="#a8a8a0" stroke-width="0.6"/>
<text x="462.60" y="412.15" font-family='"Liberation Serif", serif' font-size="7.4" text-anchor="middle" fill="#1a1a1a" stroke="#1a1a1a" stroke-width="0.1">0.93</text>
<polygon points="459.00,420.05 459.32,420.79 460.13,420.70 459.65,421.35 460.13,422.00 459.32,421.91 459.00,422.65 458.68,421.91 457.87,422.00 458.35,421.35 457.87,420.70 458.68,420.79" fill="#ffffff"/>
<polygon points="462.60,420.05 462.93,420.79 463.73,420.70 463.25,421.35 463.73,422.00 462.93,421.91 462.60,422.65 462.28,421.91 461.47,422.00 461.95,421.35 461.47,420.70 462.28,420.79" fill="#ffffff"/>
<polygon points="466.20,420.05 466.53,420.79 467.33,420.70 466.85,421.35 467.33,422.00 466.53,421.91 466.20,422.65 465.88,421.91 465.07,422.00 465.55,421.35 465.07,420.70 465.88,420.79" fill="#ffffff"/>
<circle cx="484.90" cy="413.35" r="10.75" fill="#db3d2d" stroke="#a8a8a0" stroke-width="0.6"/>
<text x="484.90" y="412.15" font-family='"Liberation Serif", serif' font-size="7.4" text-anchor="middle" fill="#1a1a1a" stroke="#1a1a1a" stroke-width="0.1">0.93</text>
<polygon points="481.30,420.05 481.62,420.79 482.43,420.70 481.95,421.35 482.43,422.00 481.62,421.91 481.30,422.65 480.97,421.91 480.17,422.00 480.65,421.35 480.17,420.70 480.97,420.79" fill="#ffffff"/>
<polygon points="484.90,420.05 485.22,420.79 486.03,420.70 485.55,421.35 486.03,422.00 485.22,421.91 484.90,422.65 484.57,421.91 483.77,422.00 484.25,421.35 483.77,420.70 484.57,420.79" fill="#ffffff"/>
<polygon points="488.50,420.05 488.82,420.79 489.63,420.70 489.15,421.35 489.63,422.00 488.82,421.91 488.50,422.65 488.18,421.91 487.37,422.00 487.85,421.35 487.37,420.70 488.18,420.79" fill="#ffffff"/>
<circle cx="507.20" cy="413.35" r="10.75" fill="#dc3f2e" stroke="#a8a8a0" stroke-width="0.6"/>
<text x="507.20" y="412.15" font-family='"Liberation Serif", serif' font-size="7.4" text-anchor="middle" fill="#1a1a1a" stroke="#1a1a1a" stroke-width="0.1">0.92</text>
<polygon points="503.60,420.05 503.92,420.79 504.73,420.70 504.25,421.35 504.73,422.00 503.92,421.91 503.60,422.65 503.27,421.91 502.47,422.00 502.95,421.35 502.47,420.70 503.27,420.79" fill="#ffffff"/>
<polygon points="507.20,420.05 507.52,420.79 508.33,420.70 507.85,421.35 508.33,422.00 507.52,421.91 507.20,422.65 506.88,421.91 506.07,422.00 506.55,421.35 506.07,420.70 506.88,420.79" fill="#ffffff"/>
<polygon points="510.80,420.05 511.12,420.79 511.93,420.70 511.45,421.35 511.93,422.00 511.12,421.91 510.80,422.65 510.48,421.91 509.67,422.00 510.15,421.35 509.67,420.70 510.48,420.79" fill="#ffffff"/>
<circle cx="529.50" cy="413.35" r="10.75" fill="#da3a2b" stroke="#a8a8a0" stroke-width="0.6"/>
<text x="529.50" y="412.15" font-family='"Liberation Serif", serif' font-size="7.4" text-anchor="middle" fill="#1a1a1a" stroke="#1a1a1a" stroke-width="0.1">0.95</text>
<polygon points="525.90,420.05 526.23,420.79 527.03,420.70 526.55,421.35 527.03,422.00 526.23,421.91 525.90,422.65 525.57,421.91 524.77,422.00 525.25,421.35 524.77,420.70 525.57,420.79" fill="#ffffff"/>
<polygon points="529.50,420.05 529.83,420.79 530.63,420.70 530.15,421.35 530.63,422.00 529.83,421.91 529.50,422.65 529.17,421.91 528.37,422.00 528.85,421.35 528.37,420.70 529.17,420.79" fill="#ffffff"/>
<polygon points="533.10,420.05 533.43,420.79 534.23,420.70 533.75,421.35 534.23,422.00 533.43,421.91 533.10,422.65 532.77,421.91 531.97,422.00 532.45,421.35 531.97,420.70 532.77,420.79" fill="#ffffff"/>
<circle cx="551.80" cy="413.35" r="10.75" fill="#5d86bf" stroke="#a8a8a0" stroke-width="0.6"/>
<text x="551.80" y="412.15" font-family='"Liberation Serif", serif' font-size="7.4" text-anchor="middle" fill="#1a1a1a" stroke="#1a1a1a" stroke-width="0.1">-0.83</text>
<polygon points="550.00,420.05 550.33,420.79 551.13,420.70 550.65,421.35 551.13,422.00 550.33,421.91 550.00,422.65 549.67,421.91 548.87,422.00 549.35,421.35 548.87,420.70 549.67,420.79" fill="#ffffff"/>
<polygon points="553.60,420.05 553.92,420.79 554.73,420.70 554.25,421.35 554.73,422.00 553.92,421.91 553.60,422.65 553.27,421.91 552.47,422.00 552.95,421.35 552.47,420.70 553.27,420.79" fill="#ffffff"/>
<circle cx="418.00" cy="435.35" r="10.75" fill="#dc5946" stroke="#a8a8a0" stroke-width="0.6"/>
<text x="418.00" y="434.15" font-family='"Liberation Serif", serif' font-size="7.4" text-anchor="middle" fill="#1a1a1a" stroke="#1a1a1a" stroke-width="0.1">0.77</text>
<polygon points="418.00,442.05 418.32,442.79 419.13,442.70 418.65,443.35 419.13,444.00 418.32,443.91 418.00,444.65 417.68,443.91 416.87,444.00 417.35,443.35 416.87,442.70 417.68,442.79" fill="#ffffff"/>
<circle cx="440.30" cy="435.35" r="10.75" fill="#dd4735" stroke="#a8a8a0" stroke-width="0.6"/>
<text x="440.30" y="434.15" font-family='"Liberation Serif", serif' font-size="7.4" text-anchor="middle" fill="#1a1a1a" stroke="#1a1a1a" stroke-width="0.1">0.87</text>
<polygon points="438.50,442.05 438.82,442.79 439.63,442.70 439.15,443.35 439.63,444.00 438.82,443.91 438.50,444.65 438.18,443.91 437.37,444.00 437.85,443.35 437.37,442.70 438.18,442.79" fill="#ffffff"/>
<polygon points="442.10,442.05 442.43,442.79 443.23,442.70 442.75,443.35 443.23,444.00 442.43,443.91 442.10,444.65 441.78,443.91 440.97,444.00 441.45,443.35 440.97,442.70 441.78,442.79" fill="#ffffff"/>
<circle cx="462.60" cy="435.35" r="10.75" fill="#dd4633" stroke="#a8a8a0" stroke-width="0.6"/>
<text x="462.60" y="434.15" font-family='"Liberation Serif", serif' font-size="7.4" text-anchor="middle" fill="#1a1a1a" stroke="#1a1a1a" stroke-width="0.1">0.88</text>
<polygon points="460.80,442.05 461.12,442.79 461.93,442.70 461.45,443.35 461.93,444.00 461.12,443.91 460.80,444.65 460.48,443.91 459.67,444.00 460.15,443.35 459.67,442.70 460.48,442.79" fill="#ffffff"/>
<polygon points="464.40,442.05 464.73,442.79 465.53,442.70 465.05,443.35 465.53,444.00 464.73,443.91 464.40,444.65 464.08,443.91 463.27,444.00 463.75,443.35 463.27,442.70 464.08,442.79" fill="#ffffff"/>
<circle cx="484.90" cy="435.35" r="10.75" fill="#db3d2d" stroke="#a8a8a0" stroke-width="0.6"/>
<text x="484.90" y="434.15" font-family='"Liberation Serif", serif' font-size="7.4" text-anchor="middle" fill="#1a1a1a" stroke="#1a1a1a" stroke-width="0.1">0.93</text>
<polygon points="481.30,442.05 481.62,442.79 482.43,442.70 481.95,443.35 482.43,444.00 481.62,443.91 481.30,444.65 480.97,443.91 480.17,444.00 480.65,443.35 480.17,442.70 480.97,442.79" fill="#ffffff"/>
<polygon points="484.90,442.05 485.22,442.79 486.03,442.70 485.55,443.35 486.03,444.00 485.22,443.91 484.90,444.65 484.57,443.91 483.77,444.00 484.25,443.35 483.77,442.70 484.57,442.79" fill="#ffffff"/>
<polygon points="488.50,442.05 488.82,442.79 489.63,442.70 489.15,443.35 489.63,444.00 488.82,443.91 488.50,444.65 488.18,443.91 487.37,444.00 487.85,443.35 487.37,442.70 488.18,442.79" fill="#ffffff"/>
<circle cx="507.20" cy="435.35" r="10.75" fill="#de6b54" stroke="#a8a8a0" stroke-width="0.6"/>
<text x="507.20" y="434.15" font-family='"Liberation Serif", serif' font-size="7.4" text-anchor="middle" fill="#1a1a1a" stroke="#1a1a1a" stroke-width="0.1">0.67</text>
<polygon points="507.20,442.05 507.52,442.79 508.33,442.70 507.85,443.35 508.33,444.00 507.52,443.91 507.20,444.65 506.88,443.91 506.07,444.00 506.55,443.35 506.07,442.70 506.88,442.79" fill="#ffffff"/>
<circle cx="529.50" cy="435.35" r="10.75" fill="#dd6650" stroke="#a8a8a0" stroke-width="0.6"/>
<text x="529.50" y="434.15" font-family='"Liberation Serif", serif' font-size="7.4" text-anchor="middle" fill="#1a1a1a" stroke="#1a1a1a" stroke-width="0.1">0.70</text>
<polygon points="529.50,442.05 529.83,442.79 530.63,442.70 530.15,443.35 530.63,444.00 529.83,443.91 529.50,444.65 529.17,443.91 528.37,444.00 528.85,443.35 528.37,442.70 529.17,442.79" fill="#ffffff"/>
<circle cx="551.80" cy="435.35" r="10.75" fill="#96b2bc" stroke="#a8a8a0" stroke-width="0.6"/>
<text x="551.80" y="434.15" font-family='"Liberation Serif", serif' font-size="7.4" text-anchor="middle" fill="#1a1a1a" stroke="#1a1a1a" stroke-width="0.1">-0.55</text>
<circle cx="418.00" cy="457.35" r="10.75" fill="#e07a61" stroke="#a8a8a0" stroke-width="0.6"/>
<text x="418.00" y="456.15" font-family='"Liberation Serif", serif' font-size="7.4" text-anchor="middle" fill="#1a1a1a" stroke="#1a1a1a" stroke-width="0.1">0.58</text>
<circle cx="440.30" cy="457.35" r="10.75" fill="#e18368" stroke="#a8a8a0" stroke-width="0.6"/>
<text x="440.30" y="456.15" font-family='"Liberation Serif", serif' font-size="7.4" text-anchor="middle" fill="#1a1a1a" stroke="#1a1a1a" stroke-width="0.1">0.53</text>
<circle cx="462.60" cy="457.35" r="10.75" fill="#de6e57" stroke="#a8a8a0" stroke-width="0.6"/>
<text x="462.60" y="456.15" font-family='"Liberation Serif", serif' font-size="7.4" text-anchor="middle" fill="#1a1a1a" stroke="#1a1a1a" stroke-width="0.1">0.65</text>
<circle cx="484.90" cy="457.35" r="10.75" fill="#df735b" stroke="#a8a8a0" stroke-width="0.6"/>
<text x="484.90" y="456.15" font-family='"Liberation Serif", serif' font-size="7.4" text-anchor="middle" fill="#1a1a1a" stroke="#1a1a1a" stroke-width="0.1">0.62</text>
<circle cx="507.20" cy="457.35" r="10.75" fill="#dc5441" stroke="#a8a8a0" stroke-width="0.6"/>
<text x="507.20" y="456.15" font-family='"Liberation Serif", serif' font-size="7.4" text-anchor="middle" fill="#1a1a1a" stroke="#1a1a1a" stroke-width="0.1">0.80</text>
<polygon points="505.40,464.05 505.72,464.79 506.53,464.70 506.05,465.35 506.53,466.00 505.72,465.91 505.40,466.65 505.07,465.91 504.27,466.00 504.75,465.35 504.27,464.70 505.07,464.79" fill="#ffffff"/>
<polygon points="509.00,464.05 509.32,464.79 510.13,464.70 509.65,465.35 510.13,466.00 509.32,465.91 509.00,466.65 508.68,465.91 507.87,466.00 508.35,465.35 507.87,464.70 508.68,464.79" fill="#ffffff"/>
<circle cx="529.50" cy="457.35" r="10.75" fill="#dc503d" stroke="#a8a8a0" stroke-width="0.6"/>
<text x="529.50" y="456.15" font-family='"Liberation Serif", serif' font-size="7.4" text-anchor="middle" fill="#1a1a1a" stroke="#1a1a1a" stroke-width="0.1">0.82</text>
<polygon points="527.70,464.05 528.03,464.79 528.83,464.70 528.35,465.35 528.83,466.00 528.03,465.91 527.70,466.65 527.38,465.91 526.57,466.00 527.05,465.35 526.57,464.70 527.38,464.79" fill="#ffffff"/>
<polygon points="531.30,464.05 531.62,464.79 532.43,464.70 531.95,465.35 532.43,466.00 531.62,465.91 531.30,466.65 530.97,465.91 530.17,466.00 530.65,465.35 530.17,464.70 530.97,464.79" fill="#ffffff"/>
<circle cx="551.80" cy="457.35" r="10.75" fill="#5680be" stroke="#a8a8a0" stroke-width="0.6"/>
<text x="551.80" y="456.15" font-family='"Liberation Serif", serif' font-size="7.4" text-anchor="middle" fill="#1a1a1a" stroke="#1a1a1a" stroke-width="0.1">-0.87</text>
<polygon points="550.00,464.05 550.33,464.79 551.13,464.70 550.65,465.35 551.13,466.00 550.33,465.91 550.00,466.65 549.67,465.91 548.87,466.00 549.35,465.35 548.87,464.70 549.67,464.79" fill="#ffffff"/>
<polygon points="553.60,464.05 553.92,464.79 554.73,464.70 554.25,465.35 554.73,466.00 553.92,465.91 553.60,466.65 553.27,465.91 552.47,466.00 552.95,465.35 552.47,464.70 553.27,464.79" fill="#ffffff"/>
<circle cx="418.00" cy="479.35" r="10.75" fill="#df735b" stroke="#a8a8a0" stroke-width="0.6"/>
<text x="418.00" y="478.15" font-family='"Liberation Serif", serif' font-size="7.4" text-anchor="middle" fill="#1a1a1a" stroke="#1a1a1a" stroke-width="0.1">0.62</text>
<circle cx="440.30" cy="479.35" r="10.75" fill="#df735b" stroke="#a8a8a0" stroke-width="0.6"/>
<text x="440.30" y="478.15" font-family='"Liberation Serif", serif' font-size="7.4" text-anchor="middle" fill="#1a1a1a" stroke="#1a1a1a" stroke-width="0.1">0.62</text>
<circle cx="462.60" cy="479.35" r="10.75" fill="#de6e57" stroke="#a8a8a0" stroke-width="0.6"/>
<text x="462.60" y="478.15" font-family='"Liberation Serif", serif' font-size="7.4" text-anchor="middle" fill="#1a1a1a" stroke="#1a1a1a" stroke-width="0.1">0.65</text>
<circle cx="484.90" cy="479.35" r="10.75" fill="#de6e57" stroke="#a8a8a0" stroke-width="0.6"/>
<text x="484.90" y="478.15" font-family='"Liberation Serif", serif' font-size="7.4" text-anchor="middle" fill="#1a1a1a" stroke="#1a1a1a" stroke-width="0.1">0.65</text>
<circle cx="507.20" cy="479.35" r="10.75" fill="#dc503d" stroke="#a8a8a0" stroke-width="0.6"/>
<text x="507.20" y="478.15" font-family='"Liberation Serif", serif' font-size="7.4" text-anchor="middle" fill="#1a1a1a" stroke="#1a1a1a" stroke-width="0.1">0.82</text>
<polygon points="505.40,486.05 505.72,486.79 506.53,486.70 506.05,487.35 506.53,488.00 505.72,487.91 505.40,488.65 505.07,487.91 504.27,488.00 504.75,487.35 504.27,486.70 505.07,486.79" fill="#ffffff"/>
<polygon points="509.00,486.05 509.32,486.79 510.13,486.70 509.65,487.35 510.13,488.00 509.32,487.91 509.00,488.65 508.68,487.91 507.87,488.00 508.35,487.35 507.87,486.70 508.68,486.79" fill="#ffffff"/>
<circle cx="529.50" cy="479.35" r="10.75" fill="#dd4f3c" stroke="#a8a8a0" stroke-width="0.6"/>
<text x="529.50" y="478.15" font-family='"Liberation Serif", serif' font-size="7.4" text-anchor="middle" fill="#1a1a1a" stroke="#1a1a1a" stroke-width="0.1">0.83</text>
<polygon points="527.70,486.05 528.03,486.79 528.83,486.70 528.35,487.35 528.83,488.00 528.03,487.91 527.70,488.65 527.38,487.91 526.57,488.00 527.05,487.35 526.57,486.70 527.38,486.79" fill="#ffffff"/>
<polygon points="531.30,486.05 531.62,486.79 532.43,486.70 531.95,487.35 532.43,488.00 531.62,487.91 531.30,488.65 530.97,487.91 530.17,488.00 530.65,487.35 530.17,486.70 530.97,486.79" fill="#ffffff"/>
<circle cx="551.80" cy="479.35" r="10.75" fill="#4f79bc" stroke="#a8a8a0" stroke-width="0.6"/>
<text x="551.80" y="478.15" font-family='"Liberation Serif", serif' font-size="7.4" text-anchor="middle" fill="#1a1a1a" stroke="#1a1a1a" stroke-width="0.1">-0.92</text>
<polygon points="548.20,486.05 548.52,486.79 549.33,486.70 548.85,487.35 549.33,488.00 548.52,487.91 548.20,488.65 547.87,487.91 547.07,488.00 547.55,487.35 547.07,486.70 547.87,486.79" fill="#ffffff"/>
<polygon points="551.80,486.05 552.12,486.79 552.93,486.70 552.45,487.35 552.93,488.00 552.12,487.91 551.80,488.65 551.47,487.91 550.67,488.00 551.15,487.35 550.67,486.70 551.47,486.79" fill="#ffffff"/>
<polygon points="555.40,486.05 555.73,486.79 556.53,486.70 556.05,487.35 556.53,488.00 555.73,487.91 555.40,488.65 555.07,487.91 554.27,488.00 554.75,487.35 554.27,486.70 555.07,486.79" fill="#ffffff"/>
<text x="568.6" y="237.85" font-family='"Liberation Serif", serif' font-size="9.0" fill="#1a1a1a">p__Bacteroidetes</text>
<text x="568.6" y="259.85" font-family='"Liberation Serif", serif' font-size="9.0" fill="#1a1a1a">g__Parabacteroides</text>
<text x="568.6" y="281.85" font-family='"Liberation Serif", serif' font-size="9.0" fill="#1a1a1a">p__Epsilonbacteraeota</text>
<text x="568.6" y="303.85" font-family='"Liberation Serif", serif' font-size="9.0" fill="#1a1a1a">g__Bacteroides</text>
<text x="568.6" y="325.85" font-family='"Liberation Serif", serif' font-size="9.0" fill="#1a1a1a">g__Alloprevotella</text>
<text x="568.6" y="347.85" font-family='"Liberation Serif", serif' font-size="9.0" fill="#1a1a1a">p__Firmicutes</text>
<text x="568.6" y="369.85" font-family='"Liberation Serif", serif' font-size="9.0" fill="#1a1a1a">Acetic acid</text>
<text x="568.6" y="391.85" font-family='"Liberation Serif", serif' font-size="9.0" fill="#1a1a1a">Isobutyric acid</text>
<text x="568.6" y="413.85" font-family='"Liberation Serif", serif' font-size="9.0" fill="#1a1a1a">Butyric acid</text>
<text x="568.6" y="435.85" font-family='"Liberation Serif", serif' font-size="9.0" fill="#1a1a1a">Propionic acid</text>
<text x="568.6" y="457.85" font-family='"Liberation Serif", serif' font-size="9.0" fill="#1a1a1a">Isovaleric acid</text>
<text x="568.6" y="479.85" font-family='"Liberation Serif", serif' font-size="9.0" fill="#1a1a1a">Valeric acid</text>
<text transform="translate(415.50,500.50) rotate(30)" font-family='"Liberation Serif", serif' font-size="8.9" fill="#1a1a1a">Gastrocnemius muscle contractile in situ</text>
<text transform="translate(437.80,500.50) rotate(30)" font-family='"Liberation Serif", serif' font-size="8.9" fill="#1a1a1a">Total distance traveled</text>
<text transform="translate(460.10,500.50) rotate(30)" font-family='"Liberation Serif", serif' font-size="8.9" fill="#1a1a1a">The power of gripping</text>
<text transform="translate(482.40,500.50) rotate(30)" font-family='"Liberation Serif", serif' font-size="8.9" fill="#1a1a1a">Latency to fall off</text>
<text transform="translate(504.70,500.50) rotate(30)" font-family='"Liberation Serif", serif' font-size="8.9" fill="#1a1a1a">Gastrocnemius muscle contractile in vivo</text>
<text transform="translate(527.00,500.50) rotate(30)" font-family='"Liberation Serif", serif' font-size="8.9" fill="#1a1a1a">Speed</text>
<text transform="translate(549.30,500.50) rotate(30)" font-family='"Liberation Serif", serif' font-size="8.9" fill="#1a1a1a">MSTN</text>
<defs><linearGradient id="cb" x1="0" y1="0" x2="0" y2="1">
<stop offset="0.000" stop-color="#dd4633"/>
<stop offset="0.083" stop-color="#dd614c"/>
<stop offset="0.167" stop-color="#e07b62"/>
<stop offset="0.250" stop-color="#e59a78"/>
<stop offset="0.333" stop-color="#ebbd8f"/>
<stop offset="0.417" stop-color="#f1e4af"/>
<stop offset="0.500" stop-color="#eff8c5"/>
<stop offset="0.583" stop-color="#d7e5c4"/>
<stop offset="0.667" stop-color="#b9cfc3"/>
<stop offset="0.750" stop-color="#a0babe"/>
<stop offset="0.833" stop-color="#81a3be"/>
<stop offset="0.917" stop-color="#628bbf"/>
<stop offset="1.000" stop-color="#4b75bc"/>
</linearGradient></defs>
<rect x="660.0" y="216.5" width="8.2" height="54.5" fill="url(#cb)"/>
<line x1="660.00" y1="229.20" x2="661.50" y2="229.20" stroke="#fff" stroke-width="0.6" />
<line x1="666.70" y1="229.20" x2="668.20" y2="229.20" stroke="#fff" stroke-width="0.6" />
<line x1="660.00" y1="258.30" x2="661.50" y2="258.30" stroke="#fff" stroke-width="0.6" />
<line x1="666.70" y1="258.30" x2="668.20" y2="258.30" stroke="#fff" stroke-width="0.6" />
<text x="669.8" y="230.80" font-family='"Liberation Serif", serif' font-size="7.6" fill="#1a1a1a">0.5</text>
<text x="669.8" y="245.40" font-family='"Liberation Serif", serif' font-size="7.6" fill="#1a1a1a">0</text>
<text x="669.8" y="259.90" font-family='"Liberation Serif", serif' font-size="7.6" fill="#1a1a1a">-0.5</text>
</svg></body></html>
